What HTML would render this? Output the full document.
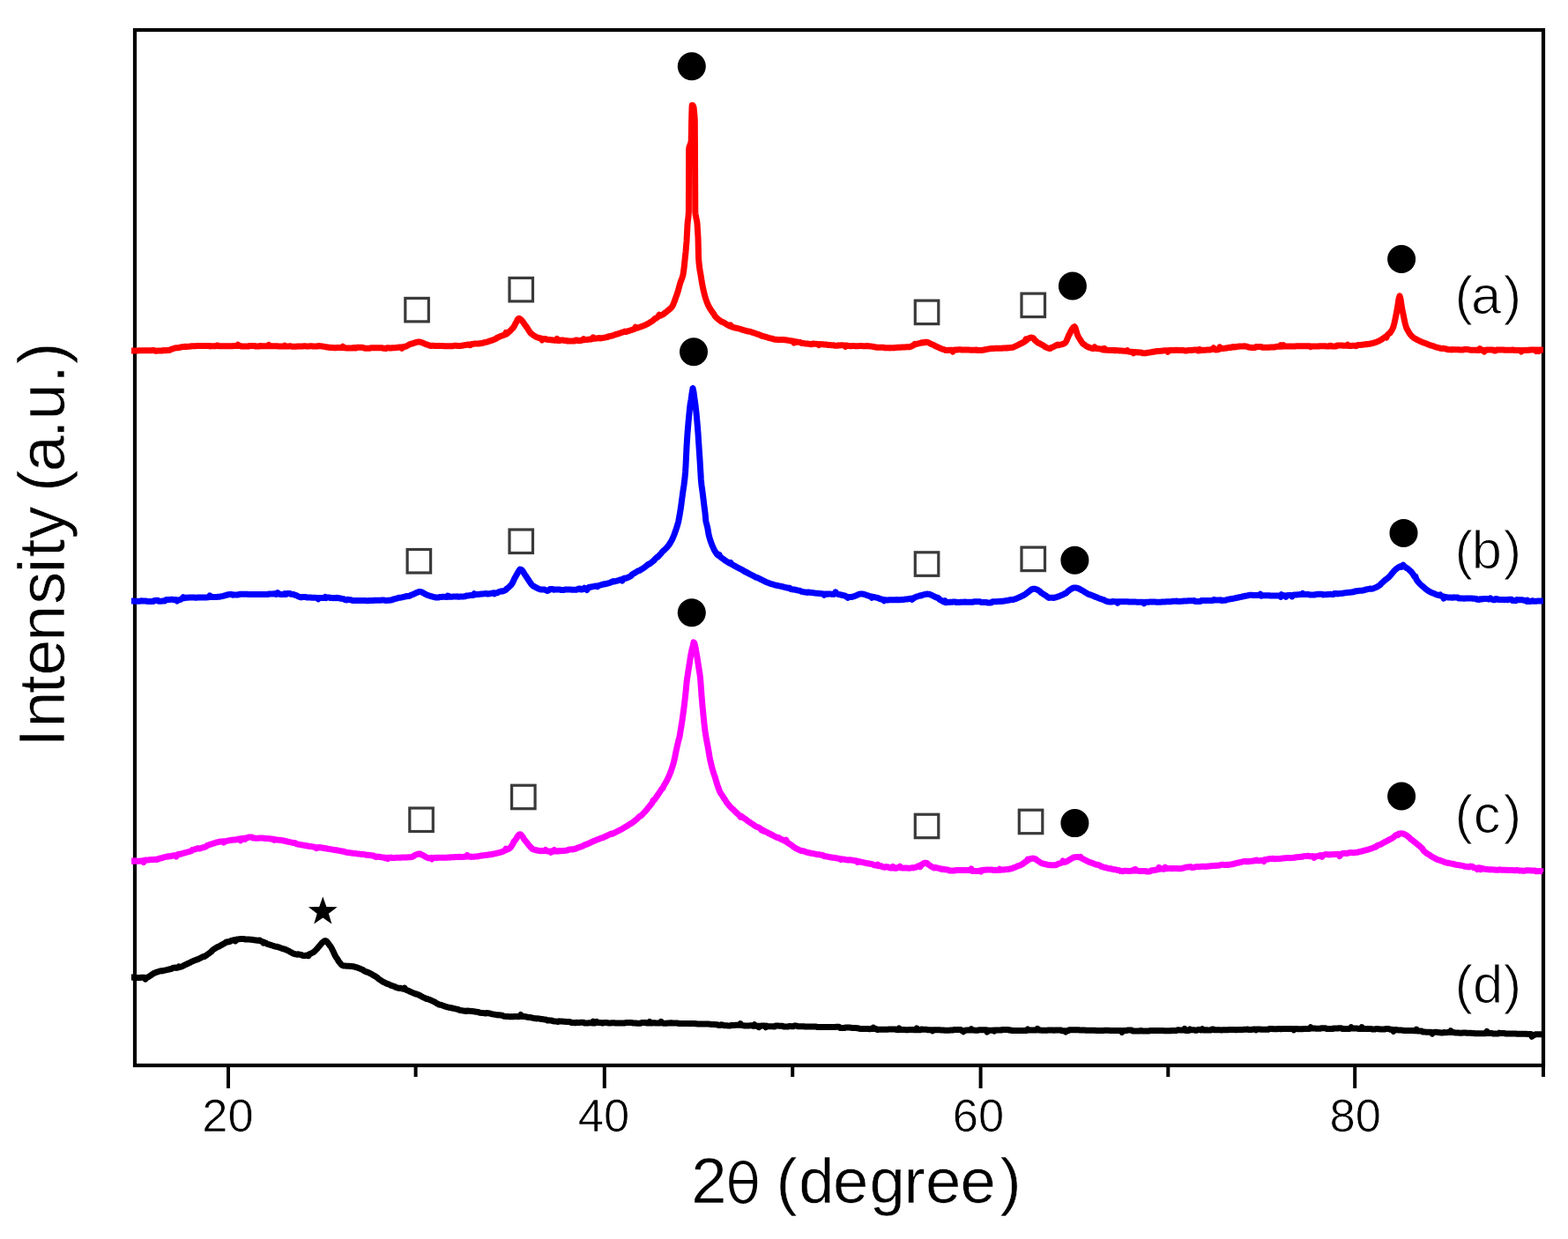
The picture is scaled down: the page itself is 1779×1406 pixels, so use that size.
<!DOCTYPE html>
<html><head><meta charset="utf-8"><title>XRD patterns</title>
<style>
html,body{margin:0;padding:0;background:#fff;width:1779px;height:1406px;overflow:hidden}
svg{display:block}
text{font-family:"Liberation Sans",Arial,sans-serif;fill:#000}
.tl{font-size:52.5px;stroke:#fff;stroke-width:0.7px}
.ax{font-size:72.5px;stroke:#fff;stroke-width:0.6px}
.ay{font-size:74px;stroke:#fff;stroke-width:0.6px}
.pl{font-size:61.5px;stroke:#fff;stroke-width:1.1px}
.th{font-family:"DejaVu Sans",sans-serif;font-weight:200;font-size:60px;stroke:#000;stroke-width:1.8px}
</style></head><body>
<svg width="1779" height="1406" viewBox="0 0 1779 1406">
<rect width="1779" height="1406" fill="#fff"/>

<rect x="153" y="34" width="1598" height="1175" fill="none" stroke="#000" stroke-width="4.2"/>
<line x1="259" y1="1209" x2="259" y2="1235" stroke="#000" stroke-width="4"/><line x1="685.8" y1="1209" x2="685.8" y2="1235" stroke="#000" stroke-width="4"/><line x1="1112.6" y1="1209" x2="1112.6" y2="1235" stroke="#000" stroke-width="4"/><line x1="1537.2" y1="1209" x2="1537.2" y2="1235" stroke="#000" stroke-width="4"/><line x1="471.6" y1="1209" x2="471.6" y2="1222" stroke="#000" stroke-width="4"/><line x1="899.2" y1="1209" x2="899.2" y2="1222" stroke="#000" stroke-width="4"/><line x1="1325.3" y1="1209" x2="1325.3" y2="1222" stroke="#000" stroke-width="4"/><line x1="1751" y1="1209" x2="1751" y2="1222" stroke="#000" stroke-width="4"/>
<defs><clipPath id="pc"><rect x="149" y="20" width="1602.3" height="1189"/></clipPath></defs>
<g fill="none" stroke-width="7" stroke-linejoin="round" stroke-linecap="butt" clip-path="url(#pc)">
<path d="M149.0,397.9 150.0,397.9 151.0,397.9 152.0,397.9 153.0,397.9 154.0,397.9 155.0,397.9 156.0,397.9 157.0,397.9 158.0,397.7 159.0,397.7 160.0,397.7 161.0,397.7 162.0,397.7 163.0,397.7 164.0,397.7 165.0,397.7 166.0,397.7 167.0,397.7 168.0,397.7 169.0,397.7 170.0,397.7 171.0,397.7 172.0,397.7 173.0,397.5 174.0,397.5 175.0,397.5 176.0,398.2 177.0,398.2 178.0,398.2 179.0,398.1 180.0,398.1 181.0,398.1 182.0,398.1 183.0,398.1 184.0,398.1 185.0,397.5 186.0,397.5 187.0,397.7 188.0,397.7 189.0,397.6 190.0,397.6 191.0,397.5 192.0,397.4 193.0,397.1 194.0,396.4 195.0,396.1 196.0,395.8 197.0,395.5 198.0,395.2 199.0,394.9 200.0,394.7 201.0,394.8 202.0,394.7 203.0,394.6 204.0,394.4 205.0,393.9 206.0,393.8 207.0,393.7 208.0,393.6 209.0,393.4 210.0,393.3 211.0,393.5 212.0,393.4 213.0,393.3 214.0,393.3 215.0,393.2 216.0,393.1 217.0,392.8 218.0,392.8 219.0,392.7 220.0,392.7 221.0,392.7 222.0,392.7 223.0,392.6 224.0,392.5 225.0,392.4 226.0,392.4 227.0,392.4 228.0,392.4 229.0,392.4 230.0,392.5 231.0,392.5 232.0,392.5 233.0,392.5 234.0,392.4 235.0,392.4 236.0,392.4 237.0,392.4 238.0,392.9 239.0,392.8 240.0,392.8 241.0,392.7 242.0,392.7 243.0,392.7 244.0,392.7 245.0,392.7 246.0,392.0 247.0,391.9 248.0,392.7 249.0,392.7 250.0,392.7 251.0,392.7 252.0,392.7 253.0,392.7 254.0,392.7 255.0,392.7 256.0,392.7 257.0,392.7 258.0,392.7 259.0,392.7 260.0,392.7 261.0,392.7 262.0,392.7 263.0,392.7 264.0,392.7 265.0,392.6 266.0,392.6 267.0,392.6 268.0,392.6 269.0,392.4 270.0,391.2 271.0,392.4 272.0,392.4 273.0,392.4 274.0,393.0 275.0,393.0 276.0,393.0 277.0,393.0 278.0,393.0 279.0,393.0 280.0,393.0 281.0,393.0 282.0,393.0 283.0,392.5 284.0,392.5 285.0,392.5 286.0,392.5 287.0,392.5 288.0,392.5 289.0,392.5 290.0,393.0 291.0,393.0 292.0,393.0 293.0,393.0 294.0,393.0 295.0,392.5 296.0,392.5 297.0,392.7 298.0,392.7 299.0,392.7 300.0,392.7 301.0,392.7 302.0,392.7 303.0,392.7 304.0,392.7 305.0,391.5 306.0,392.7 307.0,392.7 308.0,392.7 309.0,392.7 310.0,392.7 311.0,392.7 312.0,392.7 313.0,392.7 314.0,392.7 315.0,392.7 316.0,393.1 317.0,393.1 318.0,393.1 319.0,393.1 320.0,393.1 321.0,393.1 322.0,393.1 323.0,392.1 324.0,393.0 325.0,393.0 326.0,393.0 327.0,393.0 328.0,393.0 329.0,392.7 330.0,392.7 331.0,393.3 332.0,393.3 333.0,393.3 334.0,393.3 335.0,393.3 336.0,393.3 337.0,392.9 338.0,392.9 339.0,392.9 340.0,392.9 341.0,392.9 342.0,392.9 343.0,392.9 344.0,392.9 345.0,392.7 346.0,392.7 347.0,392.9 348.0,392.9 349.0,392.9 350.0,392.9 351.0,392.9 352.0,392.7 353.0,392.7 354.0,392.7 355.0,393.1 356.0,393.1 357.0,393.1 358.0,393.1 359.0,393.1 360.0,393.1 361.0,392.5 362.0,392.6 363.0,392.7 364.0,392.8 365.0,392.9 366.0,393.1 367.0,393.2 368.0,393.4 369.0,393.6 370.0,393.8 371.0,394.0 372.0,394.1 373.0,394.2 374.0,394.3 375.0,394.5 376.0,394.6 377.0,394.6 378.0,394.6 379.0,394.7 380.0,394.7 381.0,394.7 382.0,394.5 383.0,394.6 384.0,394.6 385.0,394.6 386.0,394.6 387.0,394.6 388.0,394.7 389.0,393.3 390.0,394.7 391.0,394.7 392.0,394.7 393.0,395.1 394.0,395.1 395.0,395.1 396.0,395.1 397.0,395.1 398.0,395.1 399.0,395.1 400.0,395.1 401.0,394.4 402.0,394.4 403.0,395.0 404.0,395.0 405.0,394.2 406.0,394.2 407.0,394.2 408.0,394.2 409.0,394.2 410.0,394.2 411.0,394.2 412.0,394.8 413.0,394.8 414.0,395.2 415.0,395.2 416.0,395.2 417.0,395.2 418.0,395.2 419.0,395.2 420.0,395.2 421.0,394.7 422.0,394.7 423.0,394.7 424.0,394.7 425.0,394.7 426.0,394.7 427.0,394.7 428.0,394.7 429.0,394.7 430.0,394.7 431.0,394.7 432.0,394.8 433.0,394.8 434.0,394.8 435.0,395.3 436.0,395.3 437.0,395.4 438.0,395.4 439.0,394.8 440.0,394.8 441.0,394.8 442.0,395.0 443.0,395.0 444.0,395.0 445.0,394.8 446.0,394.8 447.0,394.7 448.0,394.7 449.0,394.6 450.0,394.6 451.0,394.2 452.0,394.2 453.0,394.1 454.0,394.0 455.0,393.9 456.0,395.4 457.0,393.8 458.0,393.6 459.0,393.3 460.0,393.3 461.0,392.8 462.0,392.3 463.0,391.8 464.0,391.2 465.0,390.7 466.0,390.3 467.0,390.2 468.0,389.9 469.0,389.5 470.0,389.2 471.0,388.8 472.0,388.5 473.0,388.3 474.0,388.1 475.0,388.0 476.0,388.0 477.0,388.2 478.0,388.5 479.0,388.8 480.0,389.3 481.0,389.7 482.0,390.2 483.0,390.6 484.0,390.9 485.0,391.2 486.0,391.6 487.0,392.0 488.0,392.3 489.0,392.5 490.0,392.3 491.0,392.3 492.0,392.3 493.0,392.4 494.0,392.4 495.0,392.4 496.0,392.4 497.0,392.4 498.0,392.5 499.0,392.6 500.0,392.6 501.0,392.6 502.0,392.6 503.0,392.6 504.0,392.8 505.0,392.8 506.0,392.8 507.0,392.8 508.0,392.8 509.0,392.8 510.0,392.8 511.0,392.8 512.0,392.8 513.0,392.8 514.0,392.8 515.0,392.2 516.0,392.2 517.0,392.2 518.0,392.2 519.0,392.6 520.0,392.6 521.0,392.6 522.0,392.5 523.0,392.4 524.0,392.2 525.0,392.0 526.0,391.9 527.0,391.7 528.0,391.5 529.0,391.4 530.0,391.2 531.0,391.0 532.0,390.9 533.0,391.7 534.0,391.5 535.0,390.5 536.0,390.4 537.0,390.3 538.0,390.1 539.0,390.0 540.0,389.9 541.0,390.1 542.0,390.0 543.0,390.0 544.0,389.8 545.0,389.7 546.0,389.5 547.0,389.4 548.0,389.2 549.0,388.8 550.0,388.6 551.0,388.4 552.0,388.2 553.0,387.9 554.0,387.6 555.0,387.2 556.0,386.9 557.0,386.5 558.0,386.3 559.0,385.9 560.0,385.5 561.0,385.1 562.0,384.6 563.0,384.2 564.0,383.2 565.0,382.8 566.0,382.4 567.0,382.0 568.0,381.6 569.0,381.2 570.0,380.9 571.0,380.5 572.0,380.1 573.0,379.9 574.0,377.5 575.0,378.9 576.0,377.9 577.0,377.1 578.0,376.2 579.0,375.2 580.0,374.2 581.0,373.1 582.0,372.3 583.0,370.8 584.0,368.9 585.0,366.8 586.0,365.6 587.0,363.0 588.0,361.7 589.0,361.3 590.0,361.8 591.0,362.5 592.0,363.6 593.0,364.9 594.0,366.3 595.0,367.8 596.0,369.1 597.0,370.5 598.0,371.8 599.0,373.4 600.0,375.1 601.0,376.6 602.0,377.9 603.0,378.7 604.0,379.5 605.0,380.3 606.0,381.0 607.0,381.6 608.0,382.2 609.0,382.6 610.0,382.9 611.0,383.3 612.0,383.6 613.0,383.8 614.0,384.0 615.0,386.1 616.0,384.4 617.0,384.6 618.0,384.5 619.0,384.6 620.0,385.2 621.0,385.3 622.0,385.4 623.0,385.5 624.0,385.6 625.0,385.7 626.0,385.8 627.0,386.0 628.0,386.1 629.0,386.2 630.0,386.3 631.0,386.3 632.0,384.4 633.0,386.5 634.0,386.6 635.0,386.6 636.0,385.9 637.0,386.0 638.0,386.0 639.0,386.1 640.0,386.4 641.0,386.4 642.0,386.5 643.0,386.5 644.0,387.0 645.0,387.0 646.0,387.0 647.0,387.0 648.0,387.0 649.0,387.0 650.0,387.0 651.0,386.9 652.0,386.9 653.0,386.1 654.0,386.1 655.0,386.0 656.0,386.8 657.0,386.7 658.0,386.6 659.0,386.5 660.0,386.0 661.0,385.9 662.0,384.6 663.0,385.7 664.0,385.6 665.0,385.5 666.0,385.4 667.0,385.3 668.0,385.2 669.0,385.1 670.0,385.0 671.0,384.9 672.0,384.6 673.0,382.8 674.0,384.3 675.0,384.2 676.0,384.0 677.0,383.9 678.0,383.8 679.0,383.6 680.0,383.5 681.0,383.9 682.0,383.8 683.0,383.6 684.0,383.4 685.0,383.3 686.0,383.1 687.0,382.9 688.0,382.7 689.0,382.5 690.0,382.0 691.0,381.8 692.0,381.6 693.0,381.3 694.0,381.1 695.0,380.8 696.0,380.5 697.0,380.2 698.0,379.7 699.0,379.4 700.0,379.2 701.0,378.9 702.0,378.6 703.0,378.1 704.0,377.8 705.0,377.5 706.0,377.1 707.0,376.8 708.0,376.5 709.0,376.1 710.0,376.6 711.0,376.3 712.0,375.9 713.0,375.6 714.0,375.3 715.0,375.0 716.0,374.7 717.0,374.3 718.0,374.0 719.0,373.6 720.0,373.3 721.0,371.2 722.0,372.4 723.0,372.1 724.0,371.8 725.0,371.5 726.0,371.2 727.0,370.9 728.0,370.4 729.0,370.1 730.0,369.7 731.0,369.3 732.0,368.9 733.0,368.4 734.0,367.9 735.0,367.4 736.0,366.8 737.0,366.2 738.0,365.6 739.0,365.0 740.0,364.3 741.0,363.6 742.0,362.6 743.0,361.7 744.0,361.4 745.0,360.6 746.0,360.1 747.0,359.1 748.0,357.1 749.0,358.3 750.0,357.8 751.0,357.4 752.0,356.9 753.0,356.3 754.0,355.4 755.0,354.7 756.0,353.9 757.0,353.1 758.0,352.3 759.0,351.4 760.0,350.7 761.0,349.7 762.0,348.6 763.0,347.2 764.0,345.1 765.0,342.5 766.0,339.7 767.0,337.0 768.0,334.2 769.0,331.2 770.0,327.6 771.0,323.9 772.0,320.4 773.0,317.8 774.0,315.3 775.0,311.8 776.0,304.8 777.0,295.1 777.2,293.2 778.0,285.8 779.0,273.8 779.1,271.9 780.0,255.0 780.2,251.9 781.0,246.2 781.4,239.8 781.6,169.8 782.0,166.6 783.0,164.3 784.0,161.4 784.2,160.2 784.6,137.2 785.0,122.5 785.2,119.5 786.0,119.5 787.0,121.7 788.0,131.7 788.3,137.0 788.5,170.0 788.8,240.0 789.0,242.6 790.0,248.1 790.8,251.8 791.0,253.7 792.0,269.4 792.1,272.9 792.6,292.8 793.0,298.5 794.0,306.5 795.0,311.9 795.2,313.1 796.0,318.3 797.0,324.0 798.0,328.9 799.0,333.0 800.0,336.7 801.0,339.9 802.0,342.7 803.0,345.2 804.0,347.3 805.0,349.3 806.0,350.8 807.0,352.4 808.0,353.8 809.0,355.2 810.0,356.5 811.0,358.5 812.0,359.6 813.0,360.6 814.0,361.5 815.0,362.4 816.0,363.1 817.0,363.9 818.0,364.6 819.0,365.3 820.0,365.3 821.0,366.0 822.0,366.6 823.0,367.2 824.0,367.8 825.0,368.4 826.0,369.0 827.0,369.6 828.0,370.1 829.0,369.0 830.0,370.9 831.0,371.2 832.0,371.5 833.0,371.8 834.0,371.9 835.0,372.2 836.0,372.4 837.0,372.6 838.0,372.9 839.0,373.1 840.0,373.4 841.0,373.6 842.0,374.2 843.0,374.5 844.0,374.7 845.0,375.0 846.0,375.3 847.0,375.5 848.0,375.8 849.0,376.1 850.0,376.1 851.0,376.4 852.0,376.7 853.0,377.0 854.0,377.4 855.0,377.7 856.0,378.0 857.0,378.3 858.0,378.7 859.0,379.1 860.0,379.4 861.0,379.7 862.0,380.1 863.0,380.4 864.0,381.1 865.0,381.4 866.0,381.5 867.0,381.8 868.0,382.1 869.0,382.4 870.0,382.7 871.0,383.0 872.0,383.4 873.0,383.7 874.0,384.0 875.0,384.0 876.0,384.3 877.0,384.5 878.0,385.1 879.0,385.2 880.0,385.2 881.0,385.3 882.0,385.4 883.0,385.4 884.0,385.4 885.0,385.5 886.0,385.5 887.0,385.6 888.0,385.5 889.0,385.5 890.0,385.7 891.0,385.7 892.0,385.9 893.0,386.0 894.0,386.2 895.0,386.4 896.0,386.6 897.0,386.8 898.0,387.0 899.0,387.2 900.0,387.1 901.0,389.2 902.0,387.6 903.0,387.8 904.0,388.0 905.0,388.2 906.0,388.2 907.0,388.4 908.0,388.5 909.0,389.3 910.0,389.4 911.0,389.5 912.0,389.6 913.0,389.8 914.0,389.9 915.0,390.0 916.0,390.1 917.0,390.2 918.0,390.3 919.0,390.4 920.0,390.7 921.0,390.8 922.0,390.0 923.0,390.1 924.0,390.2 925.0,390.3 926.0,390.3 927.0,390.4 928.0,390.5 929.0,391.5 930.0,390.7 931.0,390.6 932.0,390.7 933.0,390.7 934.0,390.8 935.0,390.9 936.0,391.0 937.0,391.1 938.0,391.1 939.0,391.4 940.0,391.5 941.0,391.5 942.0,391.6 943.0,391.7 944.0,391.7 945.0,391.8 946.0,391.8 947.0,392.2 948.0,392.2 949.0,392.3 950.0,392.3 951.0,391.8 952.0,391.9 953.0,391.9 954.0,391.8 955.0,391.8 956.0,391.8 957.0,391.9 958.0,391.9 959.0,393.3 960.0,391.9 961.0,391.9 962.0,392.6 963.0,392.6 964.0,392.6 965.0,392.7 966.0,392.7 967.0,392.6 968.0,392.6 969.0,392.6 970.0,392.7 971.0,392.7 972.0,392.7 973.0,392.7 974.0,392.7 975.0,392.6 976.0,392.6 977.0,392.6 978.0,392.6 979.0,392.7 980.0,392.7 981.0,392.7 982.0,392.8 983.0,392.6 984.0,392.6 985.0,392.7 986.0,392.8 987.0,392.9 988.0,393.0 989.0,393.1 990.0,393.3 991.0,393.4 992.0,393.7 993.0,393.9 994.0,394.0 995.0,394.2 996.0,394.3 997.0,394.2 998.0,394.2 999.0,394.3 1000.0,394.3 1001.0,394.3 1002.0,394.3 1003.0,394.3 1004.0,394.8 1005.0,394.8 1006.0,394.8 1007.0,394.7 1008.0,394.7 1009.0,394.9 1010.0,394.8 1011.0,394.8 1012.0,394.8 1013.0,394.8 1014.0,394.8 1015.0,394.7 1016.0,394.4 1017.0,394.4 1018.0,394.3 1019.0,394.3 1020.0,394.3 1021.0,394.2 1022.0,394.2 1023.0,394.0 1024.0,394.0 1025.0,394.0 1026.0,393.9 1027.0,393.9 1028.0,393.8 1029.0,393.8 1030.0,393.7 1031.0,393.9 1032.0,393.7 1033.0,393.4 1034.0,393.1 1035.0,392.4 1036.0,391.9 1037.0,391.5 1038.0,390.3 1039.0,390.7 1040.0,390.4 1041.0,390.1 1042.0,389.7 1043.0,389.7 1044.0,389.4 1045.0,389.0 1046.0,388.7 1047.0,389.0 1048.0,388.8 1049.0,388.3 1050.0,388.3 1051.0,388.4 1052.0,388.3 1053.0,388.7 1054.0,389.1 1055.0,389.6 1056.0,390.2 1057.0,390.8 1058.0,390.9 1059.0,391.4 1060.0,391.9 1061.0,392.6 1062.0,393.0 1063.0,393.4 1064.0,393.9 1065.0,394.4 1066.0,394.9 1067.0,395.3 1068.0,395.7 1069.0,396.1 1070.0,396.4 1071.0,396.7 1072.0,397.0 1073.0,397.5 1074.0,397.6 1075.0,397.6 1076.0,397.3 1077.0,397.3 1078.0,397.3 1079.0,397.3 1080.0,397.3 1081.0,399.1 1082.0,397.3 1083.0,397.1 1084.0,397.1 1085.0,397.1 1086.0,397.1 1087.0,396.7 1088.0,396.7 1089.0,396.7 1090.0,396.7 1091.0,397.1 1092.0,397.1 1093.0,397.1 1094.0,397.1 1095.0,397.1 1096.0,397.1 1097.0,397.1 1098.0,397.1 1099.0,397.1 1100.0,397.1 1101.0,397.3 1102.0,397.3 1103.0,397.3 1104.0,397.3 1105.0,397.3 1106.0,397.3 1107.0,396.9 1108.0,396.9 1109.0,397.6 1110.0,397.6 1111.0,397.6 1112.0,397.6 1113.0,397.5 1114.0,397.4 1115.0,397.3 1116.0,397.1 1117.0,397.0 1118.0,396.6 1119.0,396.4 1120.0,396.3 1121.0,396.1 1122.0,395.9 1123.0,395.8 1124.0,395.7 1125.0,395.6 1126.0,395.5 1127.0,395.5 1128.0,395.4 1129.0,395.3 1130.0,395.3 1131.0,395.3 1132.0,395.2 1133.0,395.2 1134.0,395.3 1135.0,395.2 1136.0,395.2 1137.0,395.2 1138.0,395.1 1139.0,395.1 1140.0,395.0 1141.0,394.9 1142.0,394.8 1143.0,394.9 1144.0,394.8 1145.0,394.7 1146.0,394.6 1147.0,394.6 1148.0,394.4 1149.0,394.2 1150.0,394.0 1151.0,393.3 1152.0,392.9 1153.0,392.5 1154.0,392.1 1155.0,391.4 1156.0,391.0 1157.0,390.5 1158.0,390.0 1159.0,389.5 1160.0,389.0 1161.0,388.5 1162.0,387.8 1163.0,387.4 1164.0,384.9 1165.0,385.8 1166.0,384.7 1167.0,384.1 1168.0,383.6 1169.0,383.2 1170.0,383.1 1171.0,383.2 1172.0,383.6 1173.0,384.2 1174.0,385.9 1175.0,386.7 1176.0,387.6 1177.0,388.5 1178.0,389.3 1179.0,389.4 1180.0,390.1 1181.0,390.6 1182.0,391.2 1183.0,391.7 1184.0,392.3 1185.0,392.9 1186.0,393.8 1187.0,394.2 1188.0,394.7 1189.0,395.0 1190.0,395.3 1191.0,395.5 1192.0,395.5 1193.0,394.4 1194.0,394.1 1195.0,393.7 1196.0,393.2 1197.0,392.6 1198.0,392.1 1199.0,391.5 1200.0,391.1 1201.0,391.7 1202.0,391.4 1203.0,391.1 1204.0,390.9 1205.0,390.7 1206.0,390.3 1207.0,390.0 1208.0,389.4 1209.0,388.5 1210.0,386.8 1211.0,384.3 1212.0,382.0 1213.0,379.6 1214.0,378.2 1215.0,375.6 1216.0,373.9 1217.0,372.5 1218.0,371.3 1219.0,370.7 1220.0,372.0 1221.0,375.3 1222.0,378.6 1223.0,381.3 1224.0,383.1 1225.0,384.6 1226.0,386.3 1227.0,387.8 1228.0,389.2 1229.0,390.2 1230.0,391.0 1231.0,391.6 1232.0,392.6 1233.0,393.1 1234.0,393.5 1235.0,394.0 1236.0,394.4 1237.0,394.7 1238.0,395.1 1239.0,395.4 1240.0,395.6 1241.0,395.3 1242.0,393.8 1243.0,395.3 1244.0,395.4 1245.0,395.6 1246.0,395.7 1247.0,395.8 1248.0,395.9 1249.0,396.0 1250.0,396.1 1251.0,397.0 1252.0,397.0 1253.0,395.5 1254.0,397.2 1255.0,397.2 1256.0,397.3 1257.0,397.3 1258.0,397.4 1259.0,397.4 1260.0,397.5 1261.0,397.5 1262.0,397.6 1263.0,397.6 1264.0,397.7 1265.0,397.5 1266.0,397.6 1267.0,397.7 1268.0,397.7 1269.0,397.8 1270.0,397.9 1271.0,397.9 1272.0,398.0 1273.0,398.1 1274.0,398.2 1275.0,398.2 1276.0,398.3 1277.0,398.4 1278.0,398.6 1279.0,397.7 1280.0,398.8 1281.0,399.1 1282.0,399.2 1283.0,399.3 1284.0,399.4 1285.0,399.3 1286.0,400.8 1287.0,399.5 1288.0,399.6 1289.0,399.7 1290.0,399.8 1291.0,399.9 1292.0,399.8 1293.0,399.9 1294.0,399.9 1295.0,400.0 1296.0,400.7 1297.0,400.7 1298.0,400.8 1299.0,400.8 1300.0,400.8 1301.0,400.3 1302.0,400.3 1303.0,400.2 1304.0,400.1 1305.0,399.9 1306.0,399.7 1307.0,399.5 1308.0,399.3 1309.0,399.2 1310.0,399.0 1311.0,398.8 1312.0,398.7 1313.0,398.5 1314.0,398.6 1315.0,398.5 1316.0,398.4 1317.0,398.2 1318.0,398.2 1319.0,398.1 1320.0,398.1 1321.0,397.7 1322.0,397.7 1323.0,397.7 1324.0,397.7 1325.0,399.3 1326.0,397.7 1327.0,397.6 1328.0,397.6 1329.0,397.6 1330.0,397.6 1331.0,397.6 1332.0,397.6 1333.0,397.6 1334.0,397.2 1335.0,397.2 1336.0,397.6 1337.0,397.6 1338.0,397.6 1339.0,397.6 1340.0,397.6 1341.0,397.6 1342.0,397.6 1343.0,397.6 1344.0,397.9 1345.0,397.9 1346.0,397.9 1347.0,397.9 1348.0,397.4 1349.0,397.4 1350.0,397.4 1351.0,397.4 1352.0,397.4 1353.0,397.3 1354.0,397.3 1355.0,397.1 1356.0,397.1 1357.0,397.1 1358.0,397.1 1359.0,398.0 1360.0,398.0 1361.0,396.5 1362.0,397.6 1363.0,397.3 1364.0,397.2 1365.0,397.4 1366.0,397.3 1367.0,397.3 1368.0,397.2 1369.0,397.1 1370.0,397.1 1371.0,397.0 1372.0,396.9 1373.0,396.9 1374.0,396.5 1375.0,396.4 1376.0,396.3 1377.0,394.8 1378.0,396.2 1379.0,397.0 1380.0,396.9 1381.0,396.8 1382.0,396.7 1383.0,396.6 1384.0,393.8 1385.0,395.7 1386.0,395.6 1387.0,395.5 1388.0,395.4 1389.0,395.3 1390.0,395.2 1391.0,395.1 1392.0,395.0 1393.0,394.6 1394.0,394.4 1395.0,394.3 1396.0,394.5 1397.0,394.3 1398.0,393.7 1399.0,393.5 1400.0,394.0 1401.0,393.9 1402.0,393.7 1403.0,393.5 1404.0,393.3 1405.0,393.2 1406.0,393.1 1407.0,393.1 1408.0,393.0 1409.0,393.0 1410.0,393.0 1411.0,393.0 1412.0,392.8 1413.0,392.9 1414.0,393.1 1415.0,393.3 1416.0,393.9 1417.0,394.1 1418.0,394.3 1419.0,394.3 1420.0,394.4 1421.0,394.4 1422.0,394.4 1423.0,394.4 1424.0,394.4 1425.0,393.6 1426.0,393.6 1427.0,393.4 1428.0,393.4 1429.0,393.4 1430.0,393.4 1431.0,393.4 1432.0,394.2 1433.0,394.2 1434.0,394.2 1435.0,394.2 1436.0,394.2 1437.0,394.2 1438.0,394.2 1439.0,394.2 1440.0,394.2 1441.0,394.1 1442.0,394.1 1443.0,394.1 1444.0,394.0 1445.0,394.0 1446.0,394.0 1447.0,393.4 1448.0,393.4 1449.0,393.3 1450.0,393.3 1451.0,393.2 1452.0,393.2 1453.0,391.7 1454.0,393.2 1455.0,393.1 1456.0,391.7 1457.0,393.0 1458.0,393.0 1459.0,393.0 1460.0,392.9 1461.0,393.0 1462.0,392.9 1463.0,392.9 1464.0,393.0 1465.0,392.9 1466.0,392.9 1467.0,392.9 1468.0,392.9 1469.0,392.9 1470.0,392.9 1471.0,392.7 1472.0,392.7 1473.0,392.7 1474.0,392.7 1475.0,392.7 1476.0,392.7 1477.0,392.7 1478.0,392.7 1479.0,392.8 1480.0,392.8 1481.0,392.8 1482.0,392.8 1483.0,392.8 1484.0,392.8 1485.0,392.8 1486.0,392.8 1487.0,393.7 1488.0,393.0 1489.0,393.0 1490.0,393.0 1491.0,393.0 1492.0,393.0 1493.0,393.0 1494.0,393.0 1495.0,393.0 1496.0,393.0 1497.0,392.8 1498.0,392.8 1499.0,392.8 1500.0,392.8 1501.0,392.8 1502.0,392.8 1503.0,392.8 1504.0,392.8 1505.0,392.9 1506.0,392.9 1507.0,392.9 1508.0,392.9 1509.0,392.2 1510.0,392.2 1511.0,393.0 1512.0,393.0 1513.0,393.0 1514.0,392.9 1515.0,392.9 1516.0,392.9 1517.0,392.1 1518.0,392.1 1519.0,392.1 1520.0,392.0 1521.0,392.0 1522.0,392.0 1523.0,392.0 1524.0,392.3 1525.0,392.3 1526.0,392.3 1527.0,392.3 1528.0,392.2 1529.0,391.3 1530.0,392.5 1531.0,392.4 1532.0,392.4 1533.0,392.4 1534.0,392.3 1535.0,392.3 1536.0,392.3 1537.0,392.2 1538.0,392.7 1539.0,392.6 1540.0,391.7 1541.0,391.6 1542.0,391.6 1543.0,391.5 1544.0,391.4 1545.0,391.3 1546.0,391.2 1547.0,391.1 1548.0,391.0 1549.0,390.7 1550.0,390.6 1551.0,390.7 1552.0,390.6 1553.0,390.4 1554.0,390.2 1555.0,390.0 1556.0,389.8 1557.0,389.6 1558.0,389.4 1559.0,388.9 1560.0,388.7 1561.0,388.4 1562.0,388.0 1563.0,387.6 1564.0,387.2 1565.0,386.7 1566.0,386.1 1567.0,385.5 1568.0,384.9 1569.0,384.2 1570.0,383.5 1571.0,382.7 1572.0,382.0 1573.0,383.0 1574.0,380.3 1575.0,379.4 1576.0,378.4 1577.0,377.9 1578.0,376.5 1579.0,374.9 1580.0,373.1 1581.0,370.5 1582.0,366.6 1583.0,362.0 1584.0,357.0 1585.0,352.0 1586.0,345.7 1587.0,339.0 1588.0,335.8 1589.0,339.0 1590.0,345.7 1591.0,352.0 1592.0,356.5 1593.0,361.4 1594.0,366.0 1595.0,369.9 1596.0,372.7 1597.0,374.6 1598.0,376.3 1599.0,378.0 1600.0,379.4 1601.0,380.6 1602.0,381.7 1603.0,382.5 1604.0,383.4 1605.0,384.1 1606.0,384.5 1607.0,385.1 1608.0,385.7 1609.0,386.2 1610.0,386.7 1611.0,387.2 1612.0,387.6 1613.0,388.0 1614.0,388.4 1615.0,388.8 1616.0,389.2 1617.0,389.5 1618.0,389.8 1619.0,390.2 1620.0,390.8 1621.0,391.2 1622.0,391.5 1623.0,391.8 1624.0,392.1 1625.0,392.4 1626.0,392.7 1627.0,393.1 1628.0,393.5 1629.0,393.8 1630.0,394.1 1631.0,394.4 1632.0,394.6 1633.0,394.9 1634.0,395.2 1635.0,395.4 1636.0,395.6 1637.0,395.3 1638.0,395.4 1639.0,395.6 1640.0,395.8 1641.0,396.2 1642.0,396.3 1643.0,396.7 1644.0,396.8 1645.0,396.8 1646.0,396.8 1647.0,396.9 1648.0,396.6 1649.0,396.7 1650.0,396.7 1651.0,396.7 1652.0,396.7 1653.0,396.7 1654.0,396.7 1655.0,396.8 1656.0,397.0 1657.0,397.0 1658.0,397.0 1659.0,397.0 1660.0,397.0 1661.0,396.6 1662.0,396.6 1663.0,396.6 1664.0,396.6 1665.0,396.6 1666.0,396.7 1667.0,396.7 1668.0,397.3 1669.0,397.3 1670.0,397.3 1671.0,397.2 1672.0,397.2 1673.0,397.2 1674.0,397.2 1675.0,397.2 1676.0,397.5 1677.0,397.5 1678.0,397.5 1679.0,395.6 1680.0,397.3 1681.0,397.3 1682.0,397.3 1683.0,397.3 1684.0,399.1 1685.0,397.3 1686.0,397.4 1687.0,397.1 1688.0,397.1 1689.0,397.1 1690.0,397.1 1691.0,397.1 1692.0,397.1 1693.0,397.1 1694.0,397.1 1695.0,398.0 1696.0,398.0 1697.0,398.0 1698.0,397.1 1699.0,397.1 1700.0,397.0 1701.0,397.0 1702.0,397.0 1703.0,397.0 1704.0,397.0 1705.0,397.0 1706.0,397.0 1707.0,397.2 1708.0,397.2 1709.0,397.2 1710.0,397.2 1711.0,397.2 1712.0,397.2 1713.0,397.2 1714.0,397.2 1715.0,397.2 1716.0,397.1 1717.0,397.1 1718.0,397.5 1719.0,397.5 1720.0,397.5 1721.0,397.5 1722.0,397.5 1723.0,397.5 1724.0,397.5 1725.0,397.5 1726.0,399.0 1727.0,397.5 1728.0,397.5 1729.0,397.5 1730.0,397.5 1731.0,397.5 1732.0,397.5 1733.0,397.5 1734.0,397.3 1735.0,397.3 1736.0,397.0 1737.0,397.0 1738.0,397.1 1739.0,397.1 1740.0,397.1 1741.0,397.1 1742.0,397.1 1743.0,398.6 1744.0,397.1 1745.0,397.1 1746.0,398.5 1747.0,397.0 1748.0,397.0 1749.0,397.0 1750.0,397.0 1751.0,397.0" stroke="#ff0000"/>
<path d="M149.0,682.1 150.0,682.1 151.0,682.1 152.0,682.1 153.0,682.3 154.0,682.3 155.0,682.3 156.0,682.3 157.0,682.3 158.0,682.3 159.0,682.3 160.0,681.7 161.0,681.7 162.0,682.1 163.0,682.1 164.0,682.1 165.0,682.1 166.0,682.1 167.0,682.4 168.0,682.4 169.0,682.4 170.0,682.4 171.0,682.4 172.0,682.4 173.0,682.4 174.0,682.4 175.0,681.6 176.0,681.6 177.0,681.3 178.0,681.3 179.0,681.3 180.0,682.3 181.0,682.2 182.0,682.2 183.0,682.2 184.0,682.1 185.0,682.1 186.0,682.0 187.0,682.0 188.0,680.7 189.0,680.6 190.0,680.6 191.0,680.5 192.0,680.5 193.0,680.4 194.0,680.3 195.0,680.3 196.0,680.2 197.0,680.8 198.0,680.7 199.0,680.6 200.0,680.6 201.0,682.1 202.0,680.9 203.0,680.8 204.0,680.6 205.0,680.4 206.0,679.5 207.0,679.2 208.0,677.6 209.0,678.7 210.0,678.5 211.0,678.3 212.0,678.1 213.0,678.3 214.0,678.1 215.0,678.1 216.0,678.0 217.0,678.0 218.0,678.0 219.0,677.9 220.0,677.9 221.0,678.2 222.0,678.2 223.0,678.2 224.0,678.1 225.0,678.1 226.0,678.1 227.0,678.1 228.0,677.9 229.0,677.9 230.0,677.9 231.0,677.9 232.0,677.9 233.0,677.9 234.0,677.9 235.0,677.9 236.0,677.7 237.0,677.7 238.0,675.8 239.0,677.6 240.0,677.5 241.0,677.5 242.0,677.5 243.0,677.4 244.0,677.4 245.0,677.4 246.0,677.4 247.0,677.3 248.0,677.3 249.0,677.3 250.0,676.9 251.0,676.8 252.0,676.6 253.0,676.4 254.0,676.1 255.0,675.8 256.0,675.5 257.0,675.2 258.0,675.0 259.0,674.8 260.0,674.6 261.0,674.5 262.0,674.5 263.0,674.5 264.0,675.2 265.0,675.1 266.0,675.1 267.0,675.1 268.0,675.0 269.0,675.0 270.0,675.0 271.0,674.6 272.0,674.5 273.0,674.3 274.0,674.3 275.0,674.3 276.0,674.2 277.0,674.2 278.0,674.2 279.0,674.2 280.0,674.2 281.0,674.5 282.0,674.5 283.0,674.5 284.0,674.5 285.0,674.4 286.0,674.4 287.0,674.4 288.0,674.4 289.0,674.5 290.0,674.5 291.0,674.5 292.0,674.4 293.0,674.4 294.0,674.4 295.0,674.4 296.0,674.4 297.0,674.4 298.0,674.5 299.0,674.5 300.0,674.5 301.0,674.5 302.0,674.5 303.0,674.5 304.0,674.5 305.0,674.0 306.0,674.0 307.0,674.0 308.0,674.0 309.0,674.0 310.0,674.0 311.0,673.7 312.0,673.7 313.0,674.4 314.0,674.4 315.0,672.6 316.0,674.1 317.0,674.1 318.0,674.5 319.0,674.5 320.0,674.5 321.0,674.5 322.0,674.5 323.0,673.7 324.0,674.5 325.0,674.5 326.0,673.4 327.0,673.4 328.0,673.4 329.0,673.4 330.0,674.2 331.0,674.3 332.0,674.4 333.0,674.5 334.0,675.1 335.0,675.3 336.0,675.6 337.0,676.0 338.0,676.7 339.0,677.0 340.0,677.4 341.0,677.7 342.0,677.9 343.0,677.4 344.0,677.5 345.0,677.6 346.0,677.6 347.0,677.6 348.0,677.9 349.0,678.0 350.0,678.0 351.0,678.0 352.0,678.0 353.0,678.1 354.0,678.3 355.0,678.3 356.0,678.3 357.0,678.3 358.0,678.3 359.0,678.4 360.0,678.4 361.0,679.8 362.0,678.4 363.0,678.5 364.0,678.5 365.0,678.5 366.0,678.5 367.0,678.5 368.0,678.6 369.0,677.5 370.0,678.6 371.0,677.9 372.0,677.9 373.0,677.9 374.0,677.9 375.0,678.6 376.0,678.6 377.0,678.6 378.0,678.7 379.0,678.6 380.0,678.6 381.0,678.7 382.0,678.3 383.0,678.5 384.0,678.7 385.0,678.8 386.0,679.0 387.0,679.2 388.0,679.4 389.0,679.6 390.0,679.8 391.0,680.5 392.0,680.7 393.0,680.9 394.0,680.3 395.0,680.5 396.0,680.6 397.0,680.8 398.0,680.8 399.0,680.9 400.0,681.5 401.0,681.5 402.0,681.5 403.0,681.5 404.0,681.5 405.0,681.5 406.0,681.5 407.0,681.5 408.0,681.4 409.0,681.4 410.0,681.4 411.0,681.4 412.0,681.4 413.0,681.4 414.0,681.4 415.0,681.7 416.0,681.7 417.0,681.7 418.0,681.7 419.0,681.6 420.0,681.6 421.0,681.6 422.0,681.6 423.0,681.6 424.0,681.3 425.0,681.3 426.0,681.2 427.0,681.2 428.0,681.2 429.0,681.2 430.0,681.2 431.0,681.2 432.0,681.2 433.0,681.1 434.0,681.1 435.0,681.1 436.0,681.1 437.0,681.4 438.0,681.4 439.0,681.4 440.0,681.3 441.0,681.3 442.0,681.2 443.0,681.0 444.0,680.9 445.0,680.7 446.0,680.1 447.0,680.0 448.0,679.6 449.0,679.4 450.0,679.1 451.0,678.9 452.0,678.4 453.0,678.2 454.0,678.3 455.0,678.1 456.0,677.9 457.0,677.6 458.0,677.4 459.0,677.2 460.0,676.9 461.0,676.6 462.0,676.7 463.0,676.4 464.0,676.4 465.0,676.1 466.0,675.4 467.0,675.1 468.0,674.7 469.0,674.3 470.0,673.8 471.0,673.3 472.0,672.8 473.0,672.4 474.0,672.1 475.0,671.6 476.0,671.5 477.0,671.6 478.0,671.8 479.0,672.2 480.0,672.7 481.0,673.3 482.0,673.9 483.0,674.4 484.0,674.9 485.0,675.3 486.0,675.7 487.0,676.0 488.0,676.3 489.0,676.6 490.0,676.9 491.0,677.2 492.0,677.4 493.0,677.6 494.0,677.9 495.0,677.9 496.0,677.9 497.0,677.9 498.0,677.9 499.0,677.4 500.0,677.4 501.0,677.4 502.0,677.3 503.0,677.3 504.0,677.2 505.0,677.2 506.0,677.5 507.0,677.4 508.0,676.1 509.0,676.4 510.0,677.3 511.0,677.3 512.0,677.3 513.0,677.2 514.0,677.1 515.0,677.1 516.0,677.0 517.0,676.9 518.0,676.9 519.0,676.8 520.0,677.3 521.0,677.2 522.0,677.1 523.0,677.1 524.0,677.0 525.0,676.9 526.0,676.9 527.0,676.8 528.0,676.7 529.0,676.0 530.0,675.9 531.0,675.9 532.0,675.8 533.0,675.7 534.0,675.6 535.0,675.6 536.0,675.5 537.0,675.4 538.0,673.7 539.0,674.8 540.0,674.7 541.0,674.6 542.0,674.5 543.0,674.5 544.0,674.3 545.0,674.2 546.0,674.1 547.0,674.0 548.0,673.9 549.0,673.8 550.0,673.7 551.0,673.6 552.0,673.5 553.0,674.1 554.0,674.0 555.0,673.8 556.0,673.7 557.0,673.4 558.0,673.2 559.0,673.1 560.0,672.8 561.0,673.9 562.0,673.0 563.0,672.9 564.0,672.7 565.0,672.5 566.0,671.6 567.0,671.4 568.0,671.1 569.0,670.8 570.0,671.1 571.0,670.7 572.0,670.3 573.0,669.8 574.0,669.3 575.0,668.0 576.0,667.3 577.0,666.6 578.0,665.6 579.0,664.7 580.0,663.7 581.0,662.3 582.0,660.4 583.0,658.2 584.0,655.9 585.0,654.3 586.0,652.4 587.0,650.7 588.0,648.9 589.0,647.3 590.0,646.1 591.0,646.3 592.0,646.7 593.0,647.9 594.0,649.5 595.0,651.3 596.0,652.7 597.0,654.3 598.0,655.7 599.0,657.3 600.0,658.7 601.0,660.3 602.0,661.7 603.0,663.1 604.0,664.2 605.0,665.0 606.0,665.5 607.0,666.1 608.0,666.7 609.0,667.2 610.0,667.7 611.0,668.2 612.0,668.5 613.0,668.8 614.0,669.0 615.0,669.0 616.0,669.0 617.0,669.0 618.0,669.0 619.0,669.7 620.0,669.7 621.0,670.5 622.0,669.7 623.0,669.7 624.0,668.5 625.0,668.5 626.0,668.5 627.0,668.5 628.0,669.2 629.0,669.2 630.0,668.9 631.0,668.9 632.0,668.9 633.0,668.9 634.0,668.9 635.0,668.9 636.0,669.4 637.0,669.4 638.0,669.4 639.0,669.4 640.0,669.4 641.0,669.1 642.0,669.1 643.0,669.1 644.0,669.1 645.0,669.1 646.0,669.1 647.0,669.1 648.0,669.1 649.0,669.3 650.0,669.3 651.0,669.3 652.0,669.3 653.0,669.2 654.0,669.2 655.0,669.1 656.0,668.2 657.0,668.1 658.0,667.9 659.0,669.1 660.0,669.0 661.0,668.8 662.0,668.6 663.0,667.1 664.0,667.9 665.0,667.8 666.0,669.5 667.0,667.4 668.0,666.5 669.0,666.3 670.0,666.2 671.0,666.0 672.0,665.8 673.0,665.6 674.0,665.4 675.0,665.2 676.0,664.9 677.0,665.1 678.0,665.7 679.0,664.6 680.0,664.3 681.0,664.0 682.0,663.7 683.0,663.5 684.0,663.1 685.0,662.8 686.0,663.0 687.0,662.7 688.0,662.4 689.0,662.2 690.0,661.9 691.0,661.6 692.0,661.4 693.0,660.8 694.0,660.6 695.0,659.8 696.0,659.5 697.0,659.9 698.0,659.6 699.0,659.4 700.0,659.1 701.0,658.8 702.0,658.5 703.0,658.2 704.0,657.9 705.0,657.6 706.0,659.0 707.0,656.7 708.0,656.3 709.0,655.9 710.0,656.3 711.0,655.9 712.0,655.5 713.0,655.0 714.0,654.6 714.2,654.5 715.0,654.1 716.0,653.5 717.0,652.0 718.0,651.4 719.0,650.9 720.0,650.3 721.0,649.7 722.0,649.1 722.8,648.6 723.0,648.4 724.0,647.8 725.0,647.8 726.0,647.2 727.0,646.6 728.0,645.9 729.0,645.3 730.0,644.7 731.0,644.0 732.0,643.3 732.4,642.8 733.0,642.4 734.0,641.7 735.0,640.7 736.0,640.0 737.0,639.9 738.0,639.1 739.0,638.4 740.0,637.6 741.0,636.8 742.0,636.0 743.0,634.5 744.0,633.6 745.0,632.6 746.0,632.3 747.0,631.3 748.0,630.2 749.0,629.1 750.0,628.1 751.0,626.6 751.1,626.5 752.0,625.6 753.0,624.7 754.0,623.9 755.0,622.9 756.0,621.9 757.0,620.8 758.0,619.6 758.7,618.7 759.0,618.3 760.0,616.8 761.0,615.0 762.0,613.4 763.0,611.3 763.2,610.9 764.0,609.0 765.0,606.5 766.0,603.8 767.0,600.9 767.5,599.4 768.0,597.9 769.0,594.6 769.8,591.6 770.0,590.2 771.0,585.0 772.0,578.9 772.4,576.3 773.0,572.1 774.0,564.4 774.7,559.1 775.0,557.0 776.0,550.4 776.8,543.8 777.0,542.0 777.6,535.5 778.0,528.9 779.0,507.7 779.3,502.3 780.0,491.8 781.0,479.6 782.0,469.0 783.0,459.3 784.0,453.8 784.5,450.6 785.0,446.5 786.0,440.8 786.1,440.7 787.0,445.0 787.6,449.8 788.0,452.6 789.0,459.8 790.0,468.2 791.0,479.4 792.0,491.6 792.7,502.4 793.0,506.8 794.0,521.8 794.9,536.7 795.0,538.3 795.3,544.0 796.0,550.9 797.0,558.1 797.1,558.9 798.0,566.1 799.0,574.3 799.2,576.0 800.0,582.1 800.8,590.9 801.0,592.0 802.0,595.9 802.7,598.6 803.0,600.4 804.0,606.3 804.4,608.0 805.0,610.2 806.0,613.5 807.0,616.2 807.8,618.4 808.0,618.9 809.0,621.2 810.0,623.4 811.0,625.2 811.8,626.4 812.0,626.7 813.0,628.3 814.0,629.4 815.0,630.3 816.0,629.5 817.0,631.7 818.0,632.4 819.0,633.2 819.4,633.5 820.0,634.0 821.0,634.7 822.0,635.4 823.0,636.2 824.0,636.8 825.0,637.5 826.0,638.1 827.0,638.7 828.0,639.3 829.0,638.5 830.0,640.2 830.5,640.5 831.0,640.8 832.0,641.4 833.0,641.9 834.0,642.5 835.0,643.0 836.0,643.6 837.0,644.1 838.0,644.6 839.0,645.2 840.0,645.7 841.0,646.2 842.0,646.7 843.0,647.2 844.0,648.0 845.0,648.5 846.0,649.0 847.0,649.5 848.0,650.0 849.0,650.5 850.0,651.2 851.0,651.7 852.0,652.2 853.0,652.7 854.0,653.2 855.0,653.7 856.0,654.2 857.0,654.8 858.0,655.3 859.0,655.3 860.0,655.8 861.0,656.3 862.0,656.8 863.0,657.4 864.0,657.9 865.0,658.4 866.0,658.9 867.0,659.4 868.0,659.9 869.0,660.4 870.0,660.8 871.0,661.2 872.0,661.5 873.0,661.9 874.0,662.3 875.0,662.6 876.0,662.9 877.0,663.2 878.0,663.5 879.0,663.8 880.0,664.1 881.0,664.3 882.0,664.5 883.0,664.7 884.0,664.9 885.0,665.1 886.0,665.3 887.0,665.5 888.0,665.7 889.0,666.1 890.0,666.3 891.0,666.6 892.0,666.8 893.0,667.0 894.0,667.3 895.0,667.1 896.0,667.4 897.0,668.3 898.0,668.6 899.0,668.9 900.0,669.1 901.0,668.9 902.0,669.2 903.0,669.4 904.0,669.7 905.0,669.9 906.0,670.1 907.0,670.3 908.0,670.5 909.0,671.2 910.0,671.4 911.0,671.6 912.0,671.8 913.0,671.9 914.0,672.1 915.0,672.2 916.0,672.4 917.0,672.0 918.0,672.1 919.0,672.3 920.0,672.4 921.0,672.5 922.0,672.6 923.0,672.8 924.0,672.9 925.0,673.1 926.0,673.2 927.0,673.3 928.0,673.3 929.0,673.4 930.0,673.5 931.0,673.6 932.0,673.8 933.0,673.8 934.0,673.9 935.0,675.2 936.0,674.0 937.0,674.1 938.0,674.1 939.0,674.2 940.0,674.0 941.0,674.1 942.0,674.1 943.0,674.2 944.0,674.2 945.0,674.3 946.0,674.4 947.0,673.5 948.0,671.8 949.0,673.7 950.0,673.8 951.0,674.5 952.0,674.6 953.0,674.8 954.0,675.0 955.0,675.2 956.0,675.5 957.0,675.7 958.0,675.9 959.0,676.2 960.0,677.0 961.0,677.2 962.0,678.3 963.0,677.5 964.0,677.5 965.0,677.6 966.0,677.5 967.0,677.3 968.0,677.1 969.0,676.7 970.0,676.3 971.0,675.9 972.0,675.5 973.0,675.1 974.0,674.5 975.0,674.2 976.0,674.1 977.0,674.0 978.0,674.0 979.0,674.1 980.0,674.3 981.0,674.6 982.0,674.9 983.0,675.3 984.0,675.6 985.0,675.9 986.0,676.3 987.0,676.6 988.0,676.9 989.0,678.2 990.0,677.3 991.0,677.5 992.0,677.6 993.0,677.9 994.0,678.1 995.0,678.3 996.0,678.5 997.0,678.8 998.0,679.6 999.0,679.8 1000.0,680.0 1001.0,680.2 1002.0,680.4 1003.0,681.7 1004.0,680.7 1005.0,680.8 1006.0,680.9 1007.0,681.0 1008.0,681.0 1009.0,680.7 1010.0,680.7 1011.0,680.7 1012.0,680.7 1013.0,680.7 1014.0,680.7 1015.0,680.7 1016.0,680.7 1017.0,680.6 1018.0,680.6 1019.0,680.8 1020.0,680.7 1021.0,680.7 1022.0,680.6 1023.0,680.5 1024.0,680.5 1025.0,680.4 1026.0,680.3 1027.0,680.0 1028.0,679.9 1029.0,679.9 1030.0,679.8 1031.0,679.7 1032.0,679.5 1033.0,679.3 1034.0,679.0 1035.0,680.3 1036.0,679.1 1037.0,678.8 1038.0,677.8 1039.0,677.5 1040.0,677.1 1041.0,676.8 1042.0,676.5 1043.0,676.2 1044.0,675.8 1045.0,676.0 1046.0,675.6 1047.0,675.2 1048.0,674.9 1049.0,674.6 1050.0,674.3 1051.0,674.2 1052.0,674.1 1053.0,674.2 1054.0,674.3 1055.0,674.5 1056.0,674.9 1057.0,675.3 1058.0,675.8 1059.0,676.3 1060.0,676.8 1061.0,677.4 1062.0,677.9 1063.0,678.0 1064.0,678.5 1065.0,679.0 1066.0,680.3 1067.0,680.8 1068.0,681.4 1069.0,681.9 1070.0,682.5 1071.0,683.0 1072.0,681.6 1073.0,683.8 1074.0,683.5 1075.0,683.6 1076.0,683.6 1077.0,683.3 1078.0,683.3 1079.0,683.3 1080.0,683.3 1081.0,683.0 1082.0,683.0 1083.0,683.0 1084.0,683.0 1085.0,683.5 1086.0,683.5 1087.0,683.5 1088.0,683.5 1089.0,683.5 1090.0,683.3 1091.0,683.3 1092.0,683.3 1093.0,683.3 1094.0,683.0 1095.0,683.0 1096.0,683.2 1097.0,683.2 1098.0,683.2 1099.0,683.2 1100.0,683.2 1101.0,683.2 1102.0,683.2 1103.0,683.2 1104.0,683.2 1105.0,682.8 1106.0,682.8 1107.0,682.8 1108.0,682.8 1109.0,682.8 1110.0,682.8 1111.0,682.8 1112.0,682.8 1113.0,683.5 1114.0,683.5 1115.0,683.5 1116.0,683.5 1117.0,683.5 1118.0,683.5 1119.0,683.4 1120.0,683.9 1121.0,683.9 1122.0,683.9 1123.0,683.9 1124.0,683.9 1125.0,683.8 1126.0,682.8 1127.0,682.8 1128.0,682.8 1129.0,682.7 1130.0,682.7 1131.0,682.7 1132.0,682.6 1133.0,682.5 1134.0,682.4 1135.0,682.3 1136.0,682.4 1137.0,682.3 1138.0,682.2 1139.0,682.0 1140.0,681.9 1141.0,681.7 1142.0,681.5 1143.0,681.4 1144.0,681.2 1145.0,681.0 1146.0,680.8 1147.0,680.6 1148.0,680.4 1149.0,680.6 1150.0,680.3 1151.0,680.0 1152.0,679.6 1153.0,679.3 1154.0,678.9 1155.0,678.4 1156.0,678.0 1157.0,677.6 1158.0,677.1 1159.0,676.6 1160.0,676.2 1161.0,675.7 1162.0,675.2 1163.0,674.5 1164.0,673.8 1165.0,673.0 1166.0,672.2 1167.0,671.4 1168.0,670.7 1169.0,670.0 1170.0,669.0 1171.0,668.6 1172.0,668.3 1173.0,668.2 1174.0,668.3 1175.0,668.5 1176.0,668.8 1177.0,669.2 1178.0,669.9 1179.0,670.5 1180.0,671.1 1181.0,672.4 1182.0,673.0 1183.0,673.7 1184.0,674.3 1185.0,674.9 1186.0,675.5 1187.0,676.2 1188.0,677.0 1189.0,677.8 1190.0,678.5 1191.0,678.2 1192.0,678.3 1193.0,678.3 1194.0,678.2 1195.0,678.5 1196.0,678.3 1197.0,678.0 1198.0,677.8 1199.0,677.5 1200.0,677.1 1201.0,676.8 1202.0,676.4 1203.0,676.0 1204.0,675.6 1205.0,675.2 1206.0,674.8 1207.0,674.2 1208.0,673.6 1209.0,673.3 1210.0,672.6 1211.0,671.5 1212.0,670.7 1213.0,669.9 1214.0,669.2 1215.0,668.6 1216.0,668.0 1217.0,667.5 1218.0,667.1 1219.0,667.1 1220.0,667.0 1221.0,667.1 1222.0,667.3 1223.0,667.6 1224.0,668.0 1225.0,668.5 1226.0,669.1 1227.0,669.7 1228.0,670.0 1229.0,670.7 1230.0,671.4 1231.0,672.0 1232.0,672.7 1233.0,673.2 1234.0,673.8 1235.0,674.3 1236.0,674.7 1237.0,674.8 1238.0,675.3 1239.0,675.7 1240.0,676.1 1241.0,676.5 1242.0,677.0 1243.0,677.4 1244.0,677.7 1245.0,678.1 1246.0,678.6 1247.0,679.0 1248.0,679.3 1249.0,679.7 1250.0,680.0 1251.0,680.3 1252.0,680.6 1253.0,681.0 1254.0,681.8 1255.0,682.2 1256.0,682.5 1257.0,682.7 1258.0,682.9 1259.0,683.0 1260.0,683.1 1261.0,683.1 1262.0,682.4 1263.0,682.5 1264.0,682.7 1265.0,682.7 1266.0,682.7 1267.0,682.8 1268.0,684.2 1269.0,682.8 1270.0,682.8 1271.0,682.8 1272.0,682.8 1273.0,682.7 1274.0,682.7 1275.0,682.7 1276.0,682.8 1277.0,682.8 1278.0,682.8 1279.0,682.8 1280.0,682.8 1281.0,683.1 1282.0,683.1 1283.0,683.1 1284.0,683.1 1285.0,683.1 1286.0,683.1 1287.0,683.1 1288.0,683.1 1289.0,683.1 1290.0,683.3 1291.0,683.3 1292.0,683.3 1293.0,683.3 1294.0,683.3 1295.0,683.3 1296.0,683.3 1297.0,683.3 1298.0,684.8 1299.0,683.3 1300.0,683.3 1301.0,683.3 1302.0,683.3 1303.0,683.3 1304.0,683.0 1305.0,683.0 1306.0,682.9 1307.0,682.9 1308.0,682.9 1309.0,682.9 1310.0,682.9 1311.0,682.9 1312.0,683.3 1313.0,683.2 1314.0,683.2 1315.0,683.2 1316.0,683.2 1317.0,683.2 1318.0,683.1 1319.0,683.1 1320.0,683.1 1321.0,682.9 1322.0,682.9 1323.0,682.8 1324.0,682.8 1325.0,682.8 1326.0,682.8 1327.0,682.7 1328.0,682.7 1329.0,682.7 1330.0,682.3 1331.0,682.3 1332.0,682.2 1333.0,682.2 1334.0,682.2 1335.0,682.1 1336.0,682.5 1337.0,682.4 1338.0,682.4 1339.0,682.4 1340.0,682.3 1341.0,682.3 1342.0,682.2 1343.0,682.1 1344.0,682.1 1345.0,682.1 1346.0,682.0 1347.0,681.9 1348.0,681.8 1349.0,681.8 1350.0,681.8 1351.0,681.7 1352.0,681.7 1353.0,681.7 1354.0,681.7 1355.0,681.6 1356.0,682.6 1357.0,682.6 1358.0,682.6 1359.0,682.5 1360.0,682.5 1361.0,682.5 1362.0,682.5 1363.0,681.6 1364.0,681.6 1365.0,681.6 1366.0,681.5 1367.0,681.5 1368.0,681.5 1369.0,681.5 1370.0,681.5 1371.0,681.4 1372.0,681.6 1373.0,681.6 1374.0,681.6 1375.0,681.5 1376.0,681.5 1377.0,680.6 1378.0,680.6 1379.0,681.1 1380.0,681.0 1381.0,681.0 1382.0,681.0 1383.0,680.9 1384.0,680.9 1385.0,680.8 1386.0,681.4 1387.0,681.4 1388.0,681.3 1389.0,681.3 1390.0,681.2 1391.0,681.1 1392.0,680.4 1393.0,680.3 1394.0,680.1 1395.0,680.0 1396.0,679.8 1397.0,679.6 1398.0,679.5 1399.0,679.3 1400.0,679.1 1401.0,678.9 1402.0,678.6 1403.0,678.5 1404.0,678.2 1405.0,678.0 1406.0,677.8 1407.0,677.6 1408.0,677.4 1409.0,677.2 1410.0,676.8 1411.0,676.7 1412.0,676.5 1413.0,676.3 1414.0,676.1 1415.0,675.9 1416.0,675.8 1417.0,675.4 1418.0,675.3 1419.0,675.2 1420.0,675.2 1421.0,675.5 1422.0,675.5 1423.0,675.5 1424.0,675.5 1425.0,675.5 1426.0,675.5 1427.0,675.5 1428.0,675.5 1429.0,675.5 1430.0,674.3 1431.0,676.2 1432.0,675.8 1433.0,675.8 1434.0,675.8 1435.0,675.8 1436.0,675.8 1437.0,675.8 1438.0,675.8 1439.0,675.8 1440.0,675.8 1441.0,676.0 1442.0,676.0 1443.0,676.0 1444.0,676.0 1445.0,675.9 1446.0,675.9 1447.0,675.9 1448.0,675.9 1449.0,675.9 1450.0,675.9 1451.0,675.9 1452.0,675.9 1453.0,677.3 1454.0,674.7 1455.0,675.9 1456.0,675.9 1457.0,675.8 1458.0,675.8 1459.0,677.3 1460.0,675.8 1461.0,675.4 1462.0,675.4 1463.0,675.4 1464.0,675.5 1465.0,675.5 1466.0,676.9 1467.0,675.5 1468.0,675.1 1469.0,675.1 1470.0,675.1 1471.0,675.1 1472.0,674.7 1473.0,674.7 1474.0,674.7 1475.0,674.6 1476.0,674.6 1477.0,674.6 1478.0,673.4 1479.0,674.6 1480.0,674.6 1481.0,674.5 1482.0,674.5 1483.0,674.5 1484.0,674.5 1485.0,674.5 1486.0,675.1 1487.0,675.0 1488.0,675.0 1489.0,675.0 1490.0,675.0 1491.0,675.0 1492.0,674.9 1493.0,674.4 1494.0,674.4 1495.0,674.3 1496.0,674.3 1497.0,674.3 1498.0,674.3 1499.0,674.2 1500.0,674.2 1501.0,674.9 1502.0,674.8 1503.0,674.8 1504.0,674.8 1505.0,674.7 1506.0,674.5 1507.0,674.4 1508.0,674.4 1509.0,674.3 1510.0,674.2 1511.0,674.6 1512.0,674.6 1513.0,674.5 1514.0,673.5 1515.0,673.4 1516.0,673.4 1517.0,673.9 1518.0,673.8 1519.0,673.7 1520.0,673.6 1521.0,673.5 1522.0,673.4 1523.0,673.3 1524.0,673.2 1525.0,672.9 1526.0,672.8 1527.0,672.7 1528.0,672.6 1529.0,672.4 1530.0,672.3 1531.0,672.3 1532.0,672.2 1533.0,672.1 1534.0,672.0 1535.0,671.8 1536.0,671.7 1537.0,671.1 1538.0,671.0 1539.0,670.8 1540.0,670.7 1541.0,670.5 1542.0,670.4 1543.0,670.2 1544.0,670.3 1545.0,670.2 1546.0,670.0 1547.0,669.9 1548.0,669.7 1549.0,669.2 1550.0,669.0 1551.0,668.8 1552.0,668.6 1553.0,668.4 1554.0,668.2 1555.0,667.9 1556.0,668.3 1557.0,668.1 1558.0,667.8 1559.0,667.3 1560.0,667.0 1561.0,666.6 1562.0,666.2 1563.0,665.6 1564.0,665.0 1565.0,664.3 1566.0,663.6 1567.0,662.2 1568.0,661.4 1569.0,660.5 1570.0,659.6 1571.0,658.7 1572.0,657.8 1573.0,657.2 1574.0,656.3 1575.0,655.6 1576.0,654.7 1577.0,653.6 1578.0,652.4 1579.0,651.1 1580.0,649.9 1581.0,648.7 1582.0,647.6 1583.0,646.6 1584.0,645.7 1585.0,644.9 1586.0,644.3 1587.0,643.6 1588.0,643.2 1589.0,642.6 1590.0,643.4 1591.0,642.2 1592.0,641.1 1593.0,642.6 1594.0,643.1 1595.0,643.9 1596.0,644.7 1597.0,645.1 1598.0,646.0 1599.0,646.9 1600.0,647.8 1601.0,648.7 1602.0,649.9 1603.0,651.3 1604.0,653.0 1605.0,654.6 1606.0,654.4 1607.0,657.6 1608.0,659.0 1609.0,660.3 1610.0,661.4 1611.0,662.6 1612.0,663.6 1613.0,664.6 1614.0,665.2 1615.0,666.1 1616.0,667.0 1617.0,667.9 1618.0,668.7 1619.0,669.4 1620.0,670.2 1621.0,670.8 1622.0,671.4 1623.0,671.9 1624.0,672.4 1625.0,672.8 1626.0,673.2 1627.0,673.5 1628.0,673.9 1629.0,674.5 1630.0,674.8 1631.0,675.1 1632.0,675.4 1633.0,675.7 1634.0,675.0 1635.0,676.2 1636.0,676.5 1637.0,676.7 1638.0,679.0 1639.0,677.2 1640.0,677.4 1641.0,677.6 1642.0,677.8 1643.0,677.9 1644.0,677.9 1645.0,678.0 1646.0,678.1 1647.0,678.2 1648.0,678.3 1649.0,677.8 1650.0,677.9 1651.0,677.9 1652.0,678.0 1653.0,678.1 1654.0,678.1 1655.0,678.9 1656.0,678.9 1657.0,679.0 1658.0,679.0 1659.0,679.1 1660.0,679.1 1661.0,679.2 1662.0,679.2 1663.0,678.9 1664.0,678.9 1665.0,679.0 1666.0,679.0 1667.0,679.0 1668.0,679.1 1669.0,679.1 1670.0,679.1 1671.0,679.2 1672.0,679.3 1673.0,679.3 1674.0,679.4 1675.0,679.4 1676.0,680.3 1677.0,680.3 1678.0,680.4 1679.0,679.8 1680.0,679.8 1681.0,679.9 1682.0,679.9 1683.0,679.4 1684.0,679.4 1685.0,679.5 1686.0,679.5 1687.0,679.5 1688.0,679.5 1689.0,679.9 1690.0,680.0 1691.0,678.9 1692.0,680.0 1693.0,680.0 1694.0,680.8 1695.0,680.8 1696.0,680.8 1697.0,679.6 1698.0,679.7 1699.0,679.7 1700.0,680.4 1701.0,680.5 1702.0,680.5 1703.0,680.5 1704.0,680.6 1705.0,680.6 1706.0,680.6 1707.0,680.7 1708.0,680.6 1709.0,680.6 1710.0,680.7 1711.0,680.7 1712.0,680.2 1713.0,680.2 1714.0,680.3 1715.0,680.3 1716.0,681.5 1717.0,681.5 1718.0,681.6 1719.0,681.6 1720.0,681.7 1721.0,680.6 1722.0,680.7 1723.0,680.7 1724.0,680.7 1725.0,680.8 1726.0,680.8 1727.0,680.8 1728.0,680.9 1729.0,681.3 1730.0,681.4 1731.0,681.4 1732.0,682.3 1733.0,681.2 1734.0,682.4 1735.0,682.4 1736.0,682.4 1737.0,682.5 1738.0,681.8 1739.0,681.8 1740.0,682.2 1741.0,682.3 1742.0,682.3 1743.0,682.3 1744.0,681.9 1745.0,681.9 1746.0,681.9 1747.0,682.0 1748.0,682.0 1749.0,682.0 1750.0,682.1 1751.0,682.1" stroke="#0000ff"/>
<path d="M149.0,977.1 150.0,977.0 151.0,977.4 152.0,977.3 153.0,976.8 154.0,976.7 155.0,977.3 156.0,977.3 157.0,977.2 158.0,977.2 159.0,977.1 160.0,977.1 161.0,977.1 162.0,976.6 163.0,978.5 164.0,976.5 165.0,976.0 166.0,976.0 167.0,975.9 168.0,975.9 169.0,975.8 170.0,975.7 171.0,975.6 172.0,975.6 173.0,975.6 174.0,975.5 175.0,975.4 176.0,975.2 177.0,975.5 178.0,975.3 179.0,975.2 180.0,974.4 181.0,974.2 182.0,974.0 183.0,973.8 184.0,973.6 185.0,973.1 186.0,972.8 187.0,972.6 188.0,972.4 189.0,972.2 190.0,972.0 191.0,971.8 192.0,971.9 193.0,971.7 194.0,971.5 195.0,971.3 196.0,971.0 197.0,970.8 198.0,970.8 199.0,970.6 200.0,972.0 201.0,969.8 202.0,969.5 203.0,969.3 204.0,969.4 205.0,969.2 206.0,968.9 207.0,968.5 208.0,968.2 209.0,968.0 210.0,967.7 211.0,967.4 212.0,967.1 213.0,966.9 214.0,966.6 215.0,966.3 216.0,966.0 217.0,965.7 218.0,964.7 219.0,964.4 220.0,964.1 221.0,963.8 222.0,963.5 223.0,963.2 224.0,962.9 225.0,962.6 226.0,963.1 227.0,962.8 228.0,962.5 229.0,962.2 230.0,961.9 231.0,961.6 232.0,961.3 233.0,961.0 234.0,960.6 235.0,959.4 236.0,959.1 237.0,958.8 238.0,958.4 239.0,958.1 240.0,957.8 241.0,957.5 242.0,957.1 243.0,956.8 244.0,956.5 245.0,956.2 246.0,955.9 247.0,955.7 248.0,955.4 249.0,955.2 250.0,955.0 251.0,955.1 252.0,954.9 253.0,954.7 254.0,956.0 255.0,954.8 256.0,954.6 257.0,954.4 258.0,954.1 259.0,953.9 260.0,953.8 261.0,953.6 262.0,953.5 263.0,953.3 264.0,953.2 265.0,953.0 266.0,953.1 267.0,953.0 268.0,952.8 269.0,952.7 270.0,952.2 271.0,952.1 272.0,951.9 273.0,953.8 274.0,951.7 275.0,951.5 276.0,951.3 277.0,951.2 278.0,952.4 279.0,950.9 280.0,950.8 281.0,950.7 282.0,950.0 283.0,949.9 284.0,949.9 285.0,950.0 286.0,950.0 287.0,951.1 288.0,951.1 289.0,951.1 290.0,951.2 291.0,951.2 292.0,951.3 293.0,951.3 294.0,950.9 295.0,950.9 296.0,951.0 297.0,951.1 298.0,951.1 299.0,951.2 300.0,951.3 301.0,951.4 302.0,951.4 303.0,951.5 304.0,951.6 305.0,951.7 306.0,951.8 307.0,951.9 308.0,952.0 309.0,952.2 310.0,952.3 311.0,953.3 312.0,952.6 313.0,952.8 314.0,952.9 315.0,953.1 316.0,953.3 317.0,953.2 318.0,953.4 319.0,953.5 320.0,953.7 321.0,953.9 322.0,954.0 323.0,954.2 324.0,954.4 325.0,954.8 326.0,955.0 327.0,955.2 328.0,955.4 329.0,955.6 330.0,955.9 331.0,956.1 332.0,956.3 333.0,956.5 334.0,956.4 335.0,956.6 336.0,957.6 337.0,957.8 338.0,958.0 339.0,958.2 340.0,958.4 341.0,958.6 342.0,958.8 343.0,959.0 344.0,959.1 345.0,959.3 346.0,959.5 347.0,959.7 348.0,959.8 349.0,960.0 350.0,960.2 351.0,960.4 352.0,960.5 353.0,960.6 354.0,960.7 355.0,960.9 356.0,961.2 357.0,961.3 358.0,961.5 359.0,962.6 360.0,961.8 361.0,962.0 362.0,961.4 363.0,961.6 364.0,961.8 365.0,962.0 366.0,962.2 367.0,962.3 368.0,962.5 369.0,962.7 370.0,962.8 371.0,963.0 372.0,963.2 373.0,963.4 374.0,963.6 375.0,963.7 376.0,963.9 377.0,964.1 378.0,964.2 379.0,964.4 380.0,964.5 381.0,964.7 382.0,964.8 383.0,965.0 384.0,965.2 385.0,965.4 386.0,965.6 387.0,965.8 388.0,966.0 389.0,966.1 390.0,966.3 391.0,966.5 392.0,967.1 393.0,967.2 394.0,967.4 395.0,967.6 396.0,967.6 397.0,967.7 398.0,967.9 399.0,968.1 400.0,968.2 401.0,968.3 402.0,968.4 403.0,968.5 404.0,968.6 405.0,968.8 406.0,968.9 407.0,969.0 408.0,969.1 409.0,969.3 410.0,969.4 411.0,969.3 412.0,969.4 413.0,969.6 414.0,969.7 415.0,970.2 416.0,970.3 417.0,970.1 418.0,970.3 419.0,970.4 420.0,970.5 421.0,970.7 422.0,970.8 423.0,971.0 424.0,971.1 425.0,972.1 426.0,972.3 427.0,972.5 428.0,971.9 429.0,972.1 430.0,972.3 431.0,972.5 432.0,972.6 433.0,972.8 434.0,972.9 435.0,973.0 436.0,973.1 437.0,973.8 438.0,973.9 439.0,973.3 440.0,974.5 441.0,973.2 442.0,973.2 443.0,973.2 444.0,973.1 445.0,973.6 446.0,973.6 447.0,973.6 448.0,973.4 449.0,973.3 450.0,973.3 451.0,973.3 452.0,973.3 453.0,973.2 454.0,973.2 455.0,973.2 456.0,973.1 457.0,973.1 458.0,973.1 459.0,973.0 460.0,973.0 461.0,972.9 462.0,972.9 463.0,972.8 464.0,972.8 465.0,972.7 466.0,972.8 467.0,972.6 468.0,972.2 469.0,971.9 470.0,970.8 471.0,970.3 472.0,969.9 473.0,969.5 474.0,969.2 475.0,969.0 476.0,969.0 477.0,969.1 478.0,969.8 479.0,970.2 480.0,970.7 481.0,971.2 482.0,971.8 483.0,972.4 484.0,972.9 485.0,973.3 486.0,973.7 487.0,973.8 488.0,973.8 489.0,973.4 490.0,975.0 491.0,973.4 492.0,973.4 493.0,973.4 494.0,973.3 495.0,973.3 496.0,973.4 497.0,973.3 498.0,973.3 499.0,973.3 500.0,973.3 501.0,973.2 502.0,973.2 503.0,973.2 504.0,973.3 505.0,973.2 506.0,973.2 507.0,973.2 508.0,973.1 509.0,973.1 510.0,973.1 511.0,973.0 512.0,972.8 513.0,972.8 514.0,972.7 515.0,972.7 516.0,972.5 517.0,972.5 518.0,972.5 519.0,972.4 520.0,972.4 521.0,972.3 522.0,972.5 523.0,972.5 524.0,972.4 525.0,972.4 526.0,972.3 527.0,972.3 528.0,972.3 529.0,972.0 530.0,970.5 531.0,972.0 532.0,971.9 533.0,971.9 534.0,972.4 535.0,972.3 536.0,972.3 537.0,972.2 538.0,972.2 539.0,972.1 540.0,972.0 541.0,972.0 542.0,971.8 543.0,971.8 544.0,971.2 545.0,971.2 546.0,971.1 547.0,971.0 548.0,970.8 549.0,970.7 550.0,970.6 551.0,970.5 552.0,970.3 553.0,970.2 554.0,970.0 555.0,969.8 556.0,969.6 557.0,969.7 558.0,969.5 559.0,969.2 560.0,969.0 561.0,969.0 562.0,968.7 563.0,968.3 564.0,968.0 565.0,967.9 566.0,967.7 567.0,967.4 568.0,967.1 569.0,966.8 570.0,966.5 571.0,966.0 572.0,965.6 573.0,965.2 574.0,963.2 575.0,964.3 576.0,963.8 577.0,963.3 578.0,962.6 579.0,961.9 580.0,960.7 581.0,959.1 582.0,957.5 583.0,954.9 584.0,954.1 585.0,952.7 586.0,951.3 587.0,949.5 588.0,948.0 589.0,947.1 590.0,946.7 591.0,947.1 592.0,948.1 593.0,949.6 594.0,951.3 595.0,952.9 596.0,954.1 597.0,955.3 598.0,956.5 599.0,957.8 600.0,959.1 601.0,960.2 602.0,961.3 603.0,962.2 604.0,963.4 605.0,963.8 606.0,964.1 607.0,964.4 608.0,964.7 609.0,964.8 610.0,965.1 611.0,965.3 612.0,965.5 613.0,965.6 614.0,965.8 615.0,965.3 616.0,965.4 617.0,965.5 618.0,965.6 619.0,964.5 620.0,965.6 621.0,966.0 622.0,966.0 623.0,965.9 624.0,965.9 625.0,967.4 626.0,965.9 627.0,966.2 628.0,966.2 629.0,964.5 630.0,966.1 631.0,966.0 632.0,966.0 633.0,966.0 634.0,965.5 635.0,965.4 636.0,965.7 637.0,965.6 638.0,965.5 639.0,965.5 640.0,965.4 641.0,965.3 642.0,965.2 643.0,965.1 644.0,964.9 645.0,964.3 646.0,964.1 647.0,963.9 648.0,963.7 649.0,964.1 650.0,963.9 651.0,963.7 652.0,963.4 653.0,963.1 654.0,962.8 655.0,962.2 656.0,961.9 657.0,961.6 658.0,961.2 659.0,960.9 660.0,960.6 661.0,960.2 661.4,960.1 662.0,959.5 663.0,959.1 664.0,958.6 665.0,958.2 666.0,958.0 667.0,957.5 668.0,957.1 669.0,956.6 670.0,956.1 671.0,955.6 672.0,955.2 672.8,954.9 673.0,954.7 674.0,954.3 675.0,953.9 676.0,953.5 677.0,953.1 678.0,952.7 679.0,952.3 680.0,951.9 681.0,951.5 682.0,951.1 683.0,950.7 684.0,950.8 684.1,950.7 685.0,950.0 686.0,949.6 687.0,949.2 688.0,948.9 689.0,948.1 690.0,947.7 691.0,947.3 692.0,946.7 693.0,946.3 694.0,946.5 695.0,946.1 695.5,945.9 696.0,945.6 697.0,945.2 698.0,944.7 699.0,944.2 700.0,943.7 701.0,943.2 702.0,942.7 703.0,942.2 704.0,941.7 705.0,941.2 706.0,940.6 706.9,939.9 707.0,939.8 708.0,939.3 709.0,938.7 710.0,938.2 711.0,937.6 712.0,937.0 713.0,936.2 714.0,935.6 715.0,935.0 716.0,934.5 717.0,933.8 718.0,933.1 718.3,932.9 719.0,932.4 720.0,931.6 721.0,930.8 722.0,930.0 723.0,929.1 724.0,928.0 725.0,927.1 726.0,926.2 727.0,926.0 728.0,925.0 729.0,924.0 729.6,923.4 730.0,922.9 731.0,921.9 732.0,920.8 733.0,919.8 734.0,918.6 735.0,917.1 736.0,915.9 737.0,914.7 738.0,913.5 739.0,912.2 740.0,911.0 741.0,908.3 742.0,908.3 743.0,906.9 744.0,905.5 745.0,904.0 746.0,902.5 747.0,901.2 748.0,899.6 748.6,898.7 749.0,898.1 750.0,896.5 751.0,895.0 752.0,894.6 753.0,891.9 754.0,890.3 755.0,888.6 756.0,886.8 757.0,884.9 758.0,882.9 758.6,881.6 759.0,880.7 760.0,878.4 761.0,875.7 762.0,872.9 763.0,869.8 764.0,866.4 764.5,864.6 765.0,862.7 766.0,857.8 767.0,852.8 767.7,849.5 768.0,848.0 769.0,843.7 770.0,839.5 771.0,836.2 772.0,829.7 772.1,829.2 773.0,823.8 774.0,817.6 775.0,810.4 775.1,809.7 776.0,803.0 777.0,794.6 777.6,789.4 778.0,785.6 779.0,775.0 779.6,769.5 780.0,767.4 781.0,760.9 781.9,755.5 782.0,754.9 783.0,747.9 784.0,742.2 784.5,739.7 785.0,737.2 786.0,733.8 787.0,728.9 787.3,729.1 788.0,730.2 789.0,734.7 790.0,740.1 791.0,746.0 792.0,752.6 792.3,754.6 793.0,758.8 794.0,765.2 794.5,769.3 795.0,775.6 796.0,789.6 797.0,801.2 797.8,809.5 798.0,811.7 799.0,821.3 800.0,829.7 801.0,836.1 802.0,841.6 803.0,846.9 803.5,849.6 804.0,852.6 805.0,858.6 806.0,863.8 807.0,868.0 808.0,871.8 809.0,875.2 810.0,878.4 811.0,881.1 812.0,884.5 813.0,887.9 814.0,891.1 815.0,894.0 815.6,895.4 816.0,896.8 817.0,898.9 818.0,900.8 819.0,902.0 820.0,903.6 821.0,905.2 822.0,906.6 823.0,908.0 824.0,910.0 824.2,910.2 825.0,911.3 826.0,912.5 827.0,913.7 828.0,914.9 829.0,916.0 830.0,917.1 831.0,917.8 832.0,918.8 833.0,919.8 834.0,920.7 835.0,921.8 836.0,922.7 837.0,923.6 837.7,924.2 838.0,924.5 839.0,925.3 840.0,927.1 841.0,926.2 842.0,926.9 843.0,927.7 844.0,928.4 845.0,929.1 846.0,929.7 847.0,930.4 848.0,931.4 849.0,932.1 850.0,932.7 851.0,933.4 851.9,934.0 852.0,934.0 853.0,934.7 854.0,935.3 855.0,935.9 856.0,936.8 857.0,937.4 858.0,938.0 859.0,938.6 860.0,938.7 861.0,939.2 862.0,939.8 863.0,940.6 864.0,942.2 865.0,941.7 866.0,942.2 866.1,942.9 867.0,943.4 868.0,943.3 869.0,943.8 870.0,944.3 871.0,945.0 872.0,945.5 873.0,946.0 874.0,946.5 875.0,947.0 876.0,947.5 877.0,948.0 878.0,948.6 879.0,949.1 880.0,949.6 880.3,949.7 881.0,950.1 882.0,950.6 883.0,950.3 884.0,950.8 885.0,951.8 886.0,952.2 887.0,952.7 888.0,953.2 889.0,953.7 890.0,954.2 891.0,954.7 892.0,953.3 893.0,955.8 893.2,956.1 894.0,956.5 895.0,957.1 896.0,957.8 897.0,958.4 898.0,959.1 899.0,959.8 900.0,960.7 901.0,961.4 902.0,962.1 903.0,962.7 904.0,963.1 905.0,963.7 906.0,964.2 907.0,964.7 908.0,965.0 909.0,965.4 910.0,965.4 911.0,965.7 912.0,965.9 913.0,966.2 914.0,966.8 915.0,967.0 916.0,967.3 917.0,967.5 918.0,967.7 919.0,968.0 920.0,968.2 921.0,968.4 922.0,968.6 923.0,968.7 924.0,968.9 925.0,969.1 926.0,969.4 927.0,969.6 928.0,969.8 929.0,969.6 930.0,969.9 931.0,970.1 932.0,970.3 933.0,970.5 934.0,970.7 935.0,971.5 936.0,971.7 937.0,971.7 938.0,971.9 939.0,972.2 940.0,972.4 941.0,972.6 942.0,972.8 943.0,973.0 944.0,973.1 945.0,973.3 946.0,973.3 947.0,973.4 948.0,973.6 949.0,973.8 950.0,973.9 951.0,974.1 952.0,974.5 953.0,974.6 954.0,975.6 955.0,974.9 956.0,975.0 957.0,975.1 958.0,975.2 959.0,975.6 960.0,975.7 961.0,975.8 962.0,975.9 963.0,976.0 964.0,975.8 965.0,976.0 966.0,976.1 967.0,976.2 968.0,976.4 969.0,976.5 970.0,976.7 971.0,976.8 972.0,977.0 973.0,978.4 974.0,977.5 975.0,977.7 976.0,978.0 977.0,978.2 978.0,978.4 979.0,978.6 980.0,978.8 981.0,979.1 982.0,979.3 983.0,979.5 984.0,979.7 985.0,979.8 986.0,980.0 987.0,980.2 988.0,980.4 989.0,980.6 990.0,980.8 991.0,981.5 992.0,981.7 993.0,981.9 994.0,982.1 995.0,982.3 996.0,981.2 997.0,982.7 998.0,982.5 999.0,982.7 1000.0,982.8 1001.0,983.7 1002.0,983.9 1003.0,984.0 1004.0,984.2 1005.0,983.6 1006.0,983.7 1007.0,983.8 1008.0,983.9 1009.0,984.8 1010.0,984.9 1011.0,984.9 1012.0,985.0 1013.0,983.3 1014.0,985.1 1015.0,985.2 1016.0,985.3 1017.0,985.3 1018.0,984.5 1019.0,984.6 1020.0,984.6 1021.0,983.2 1022.0,984.7 1023.0,984.9 1024.0,985.0 1025.0,985.0 1026.0,985.0 1027.0,985.1 1028.0,985.1 1029.0,985.1 1030.0,985.1 1031.0,985.3 1032.0,985.2 1033.0,985.1 1034.0,984.9 1035.0,984.7 1036.0,984.9 1037.0,984.6 1038.0,984.4 1039.0,984.1 1040.0,983.8 1041.0,983.1 1042.0,982.8 1043.0,982.6 1044.0,983.7 1045.0,981.5 1046.0,981.0 1047.0,980.5 1048.0,979.6 1049.0,979.3 1050.0,979.2 1051.0,979.3 1052.0,979.6 1053.0,980.9 1054.0,981.5 1055.0,982.1 1056.0,982.8 1057.0,983.5 1058.0,984.1 1059.0,984.6 1060.0,985.0 1061.0,984.3 1062.0,984.6 1063.0,984.8 1064.0,985.1 1065.0,985.3 1066.0,985.6 1067.0,985.8 1068.0,986.3 1069.0,986.5 1070.0,986.3 1071.0,986.5 1072.0,986.7 1073.0,986.8 1074.0,987.0 1075.0,987.1 1076.0,987.2 1077.0,987.9 1078.0,988.0 1079.0,988.0 1080.0,988.0 1081.0,988.0 1082.0,988.0 1083.0,988.0 1084.0,987.4 1085.0,987.4 1086.0,987.4 1087.0,987.4 1088.0,987.4 1089.0,987.4 1090.0,987.4 1091.0,987.4 1092.0,987.6 1093.0,987.6 1094.0,987.6 1095.0,987.6 1096.0,987.6 1097.0,987.6 1098.0,987.6 1099.0,987.4 1100.0,987.4 1101.0,987.7 1102.0,985.8 1103.0,988.4 1104.0,988.4 1105.0,988.4 1106.0,988.4 1107.0,988.4 1108.0,988.4 1109.0,988.4 1110.0,988.4 1111.0,988.4 1112.0,987.9 1113.0,989.1 1114.0,987.9 1115.0,987.2 1116.0,987.2 1117.0,987.2 1118.0,987.2 1119.0,987.1 1120.0,987.1 1121.0,987.1 1122.0,987.1 1123.0,987.1 1124.0,987.1 1125.0,987.1 1126.0,987.1 1127.0,987.6 1128.0,987.6 1129.0,987.5 1130.0,987.5 1131.0,987.5 1132.0,987.4 1133.0,987.4 1134.0,986.3 1135.0,987.3 1136.0,987.0 1137.0,987.0 1138.0,986.9 1139.0,986.9 1140.0,986.8 1141.0,986.7 1142.0,986.6 1143.0,986.5 1144.0,986.4 1145.0,986.2 1146.0,986.0 1147.0,985.8 1148.0,985.6 1149.0,985.4 1150.0,984.7 1151.0,984.4 1152.0,984.1 1153.0,983.7 1154.0,983.2 1155.0,982.7 1156.0,982.2 1157.0,982.2 1158.0,981.7 1159.0,981.1 1160.0,980.5 1161.0,980.0 1162.0,978.9 1163.0,978.4 1164.0,977.8 1165.0,977.1 1166.0,975.1 1167.0,975.8 1168.0,975.1 1169.0,974.6 1170.0,974.5 1171.0,974.2 1172.0,974.1 1173.0,974.2 1174.0,974.5 1175.0,975.0 1176.0,975.6 1177.0,976.5 1178.0,977.2 1179.0,977.8 1180.0,978.5 1181.0,979.2 1182.0,979.6 1183.0,979.9 1184.0,980.2 1185.0,980.4 1186.0,980.7 1187.0,980.9 1188.0,981.2 1189.0,981.4 1190.0,981.4 1191.0,981.5 1192.0,981.7 1193.0,981.8 1194.0,981.8 1195.0,981.8 1196.0,981.8 1197.0,981.7 1198.0,981.5 1199.0,981.3 1200.0,980.5 1201.0,980.2 1202.0,979.9 1203.0,979.6 1204.0,979.2 1205.0,978.9 1206.0,977.0 1207.0,978.1 1208.0,978.4 1209.0,978.0 1210.0,977.7 1211.0,977.3 1212.0,976.4 1213.0,975.8 1214.0,975.3 1215.0,974.7 1216.0,974.2 1217.0,973.6 1218.0,973.1 1219.0,972.7 1220.0,972.8 1221.0,972.6 1222.0,972.5 1223.0,972.5 1224.0,972.7 1225.0,973.0 1226.0,972.4 1227.0,973.9 1228.0,974.4 1229.0,974.9 1230.0,975.4 1231.0,975.9 1232.0,976.4 1233.0,976.9 1234.0,977.4 1235.0,977.8 1236.0,978.3 1237.0,978.6 1238.0,979.0 1239.0,979.4 1240.0,979.7 1241.0,980.1 1242.0,980.5 1243.0,980.8 1244.0,981.2 1245.0,981.2 1246.0,981.5 1247.0,981.9 1248.0,982.2 1249.0,983.1 1250.0,983.4 1251.0,983.7 1252.0,984.0 1253.0,984.3 1254.0,984.5 1255.0,984.7 1256.0,985.0 1257.0,985.3 1258.0,985.5 1259.0,985.8 1260.0,985.7 1261.0,986.0 1262.0,986.3 1263.0,986.5 1264.0,986.8 1265.0,986.7 1266.0,986.9 1267.0,987.2 1268.0,987.4 1269.0,987.6 1270.0,987.7 1271.0,988.4 1272.0,988.5 1273.0,988.6 1274.0,988.7 1275.0,988.3 1276.0,988.3 1277.0,988.3 1278.0,988.3 1279.0,988.3 1280.0,988.4 1281.0,988.4 1282.0,988.4 1283.0,988.4 1284.0,988.0 1285.0,988.0 1286.0,987.1 1287.0,988.0 1288.0,986.3 1289.0,988.0 1290.0,988.0 1291.0,988.0 1292.0,988.4 1293.0,988.4 1294.0,988.4 1295.0,988.4 1296.0,988.4 1297.0,988.4 1298.0,988.4 1299.0,988.4 1300.0,988.4 1301.0,989.1 1302.0,989.1 1303.0,989.0 1304.0,988.9 1305.0,988.8 1306.0,988.0 1307.0,987.8 1308.0,987.7 1309.0,987.5 1310.0,987.4 1311.0,987.2 1312.0,987.0 1313.0,986.8 1314.0,986.7 1315.0,984.4 1316.0,986.2 1317.0,986.1 1318.0,985.9 1319.0,985.8 1320.0,986.3 1321.0,986.2 1322.0,984.2 1323.0,985.7 1324.0,985.7 1325.0,985.6 1326.0,985.6 1327.0,985.6 1328.0,985.5 1329.0,985.5 1330.0,985.7 1331.0,985.6 1332.0,985.6 1333.0,985.6 1334.0,985.5 1335.0,985.5 1336.0,985.4 1337.0,985.8 1338.0,985.7 1339.0,985.7 1340.0,985.6 1341.0,985.6 1342.0,985.0 1343.0,984.9 1344.0,984.8 1345.0,984.2 1346.0,984.1 1347.0,984.0 1348.0,983.9 1349.0,983.8 1350.0,983.7 1351.0,983.6 1352.0,984.5 1353.0,984.4 1354.0,984.3 1355.0,984.2 1356.0,984.1 1357.0,983.5 1358.0,983.5 1359.0,983.6 1360.0,983.5 1361.0,983.4 1362.0,983.4 1363.0,983.3 1364.0,983.3 1365.0,983.2 1366.0,983.2 1367.0,983.4 1368.0,983.3 1369.0,983.3 1370.0,983.2 1371.0,982.9 1372.0,982.9 1373.0,982.8 1374.0,982.8 1375.0,982.6 1376.0,982.6 1377.0,982.5 1378.0,982.5 1379.0,982.3 1380.0,982.3 1381.0,982.2 1382.0,982.2 1383.0,982.1 1384.0,982.0 1385.0,981.4 1386.0,981.3 1387.0,981.3 1388.0,981.2 1389.0,981.6 1390.0,981.5 1391.0,981.4 1392.0,981.3 1393.0,981.5 1394.0,981.4 1395.0,981.2 1396.0,981.1 1397.0,980.9 1398.0,980.7 1399.0,980.5 1400.0,980.3 1401.0,980.1 1402.0,979.6 1403.0,979.4 1404.0,979.2 1405.0,979.0 1406.0,978.8 1407.0,978.6 1408.0,978.5 1409.0,977.9 1410.0,977.8 1411.0,977.6 1412.0,977.5 1413.0,977.3 1414.0,977.7 1415.0,977.5 1416.0,977.7 1417.0,977.6 1418.0,977.4 1419.0,977.3 1420.0,977.2 1421.0,977.1 1422.0,977.0 1423.0,976.9 1424.0,976.3 1425.0,976.2 1426.0,976.1 1427.0,976.8 1428.0,976.7 1429.0,976.7 1430.0,976.6 1431.0,976.5 1432.0,976.4 1433.0,976.3 1434.0,977.5 1435.0,975.5 1436.0,975.4 1437.0,975.3 1438.0,975.2 1439.0,974.8 1440.0,974.7 1441.0,974.5 1442.0,974.5 1443.0,974.4 1444.0,974.3 1445.0,974.2 1446.0,974.8 1447.0,974.7 1448.0,974.6 1449.0,974.5 1450.0,974.5 1451.0,974.4 1452.0,974.4 1453.0,974.3 1454.0,974.2 1455.0,974.1 1456.0,973.9 1457.0,973.8 1458.0,973.8 1459.0,973.7 1460.0,973.6 1461.0,973.5 1462.0,973.4 1463.0,973.7 1464.0,973.6 1465.0,973.5 1466.0,973.4 1467.0,973.4 1468.0,973.3 1469.0,973.2 1470.0,972.8 1471.0,972.7 1472.0,972.7 1473.0,972.6 1474.0,972.5 1475.0,972.4 1476.0,972.3 1477.0,972.3 1478.0,972.2 1479.0,971.7 1480.0,971.6 1481.0,971.5 1482.0,971.4 1483.0,971.4 1484.0,971.3 1485.0,971.2 1486.0,971.8 1487.0,971.7 1488.0,971.7 1489.0,971.6 1490.0,972.0 1491.0,973.3 1492.0,971.8 1493.0,971.8 1494.0,971.7 1495.0,971.6 1496.0,971.5 1497.0,970.8 1498.0,970.7 1499.0,970.6 1500.0,972.3 1501.0,970.4 1502.0,970.3 1503.0,969.7 1504.0,969.6 1505.0,969.5 1506.0,969.8 1507.0,969.8 1508.0,969.9 1509.0,969.8 1510.0,969.7 1511.0,969.7 1512.0,969.6 1513.0,969.5 1514.0,969.4 1515.0,969.4 1516.0,969.3 1517.0,969.4 1518.0,969.3 1519.0,969.2 1520.0,971.5 1521.0,969.5 1522.0,969.4 1523.0,968.5 1524.0,968.4 1525.0,968.3 1526.0,968.2 1527.0,968.5 1528.0,968.4 1529.0,968.3 1530.0,967.8 1531.0,967.7 1532.0,967.6 1533.0,967.5 1534.0,967.4 1535.0,967.8 1536.0,967.7 1537.0,967.6 1538.0,967.4 1539.0,967.3 1540.0,967.2 1541.0,967.0 1542.0,966.6 1543.0,966.4 1544.0,966.2 1545.0,966.0 1546.0,965.7 1547.0,965.5 1548.0,965.2 1549.0,964.9 1550.0,964.7 1551.0,964.4 1552.0,964.1 1553.0,963.8 1554.0,963.5 1555.0,963.2 1556.0,962.8 1557.0,962.5 1558.0,962.1 1559.0,961.7 1560.0,961.4 1561.0,961.0 1562.0,960.0 1563.0,959.5 1564.0,959.1 1565.0,958.6 1566.0,958.4 1567.0,957.8 1568.0,957.3 1569.0,956.7 1570.0,956.2 1571.0,955.7 1572.0,955.1 1573.0,954.6 1574.0,954.1 1575.0,953.5 1576.0,953.0 1577.0,952.4 1578.0,952.1 1579.0,951.5 1580.0,950.8 1581.0,950.1 1582.0,949.4 1583.0,948.2 1584.0,947.6 1585.0,947.1 1586.0,947.6 1587.0,946.0 1588.0,946.1 1589.0,945.9 1590.0,945.8 1591.0,945.9 1592.0,946.1 1593.0,946.5 1594.0,946.9 1595.0,947.5 1596.0,948.1 1597.0,948.9 1598.0,949.6 1599.0,950.4 1600.0,951.7 1601.0,952.6 1602.0,953.0 1603.0,953.9 1604.0,954.7 1605.0,955.5 1606.0,956.2 1607.0,957.1 1608.0,958.0 1609.0,958.9 1610.0,959.4 1611.0,960.4 1612.0,961.3 1613.0,962.3 1614.0,963.3 1615.0,965.2 1616.0,966.1 1617.0,967.0 1618.0,967.8 1619.0,968.6 1620.0,969.1 1621.0,969.7 1622.0,970.3 1623.0,970.9 1624.0,971.7 1625.0,972.3 1626.0,972.8 1627.0,973.4 1628.0,973.9 1629.0,974.5 1630.0,975.0 1631.0,975.4 1632.0,975.9 1633.0,975.9 1634.0,976.4 1635.0,976.8 1636.0,977.1 1637.0,977.5 1638.0,977.8 1639.0,978.4 1640.0,978.7 1641.0,979.0 1642.0,979.2 1643.0,979.2 1644.0,979.4 1645.0,979.7 1646.0,979.9 1647.0,980.1 1648.0,980.3 1649.0,980.5 1650.0,980.7 1651.0,981.1 1652.0,981.3 1653.0,981.4 1654.0,981.6 1655.0,981.7 1656.0,981.9 1657.0,982.0 1658.0,982.2 1659.0,982.4 1660.0,982.6 1661.0,983.0 1662.0,983.2 1663.0,983.3 1664.0,983.5 1665.0,983.6 1666.0,983.8 1667.0,983.9 1668.0,983.0 1669.0,983.2 1670.0,983.3 1671.0,983.5 1672.0,984.6 1673.0,984.8 1674.0,984.9 1675.0,985.1 1676.0,986.5 1677.0,984.7 1678.0,984.8 1679.0,985.0 1680.0,986.7 1681.0,985.2 1682.0,985.4 1683.0,986.0 1684.0,986.1 1685.0,986.3 1686.0,986.4 1687.0,986.5 1688.0,986.6 1689.0,986.7 1690.0,986.8 1691.0,986.9 1692.0,986.7 1693.0,986.8 1694.0,986.9 1695.0,987.0 1696.0,987.1 1697.0,987.2 1698.0,987.2 1699.0,987.3 1700.0,987.3 1701.0,986.8 1702.0,986.9 1703.0,987.2 1704.0,987.2 1705.0,987.3 1706.0,987.3 1707.0,987.3 1708.0,987.3 1709.0,987.3 1710.0,987.4 1711.0,987.4 1712.0,987.4 1713.0,987.5 1714.0,987.5 1715.0,987.5 1716.0,987.6 1717.0,987.6 1718.0,987.7 1719.0,987.7 1720.0,987.5 1721.0,987.6 1722.0,987.6 1723.0,987.9 1724.0,988.0 1725.0,988.0 1726.0,988.0 1727.0,988.0 1728.0,988.3 1729.0,988.3 1730.0,988.3 1731.0,987.7 1732.0,987.8 1733.0,987.8 1734.0,987.8 1735.0,987.8 1736.0,987.8 1737.0,987.9 1738.0,987.9 1739.0,987.9 1740.0,987.9 1741.0,987.9 1742.0,987.9 1743.0,988.8 1744.0,988.8 1745.0,988.6 1746.0,988.6 1747.0,988.6 1748.0,988.7 1749.0,988.7 1750.0,988.7 1751.0,989.6" stroke="#ff00ff"/>
<path d="M149.0,1109.1 150.0,1109.1 151.0,1109.1 152.0,1109.6 153.0,1109.6 154.0,1109.6 155.0,1109.6 156.0,1109.6 157.0,1109.6 158.0,1109.6 159.0,1109.6 160.0,1109.2 161.0,1109.2 162.0,1109.2 163.0,1109.2 164.0,1109.2 165.0,1111.2 166.0,1109.5 167.0,1109.2 168.0,1108.8 169.0,1108.2 170.0,1107.5 171.0,1106.9 172.0,1106.2 173.0,1105.5 174.0,1104.7 175.0,1104.3 176.0,1103.9 177.0,1103.4 178.0,1103.1 179.0,1102.8 180.0,1102.5 181.0,1102.2 182.0,1101.9 183.0,1101.7 184.0,1101.9 185.0,1101.6 186.0,1101.4 187.0,1101.1 188.0,1100.9 189.0,1100.7 190.0,1100.4 191.0,1100.2 192.0,1100.0 193.0,1099.7 194.0,1099.5 195.0,1099.3 196.0,1098.5 197.0,1098.3 198.0,1098.1 199.0,1097.9 200.0,1098.4 201.0,1098.2 202.0,1098.0 203.0,1096.8 204.0,1097.4 205.0,1097.2 206.0,1096.8 207.0,1096.5 208.0,1096.1 209.0,1095.3 210.0,1094.9 211.0,1094.4 212.0,1094.0 213.0,1093.5 214.0,1093.1 215.0,1092.6 216.0,1092.2 217.0,1091.5 218.0,1091.1 219.0,1090.7 220.0,1090.2 221.0,1089.8 222.0,1089.4 223.0,1089.0 224.0,1088.8 225.0,1088.4 226.0,1087.9 227.0,1087.4 228.0,1086.9 229.0,1086.4 230.0,1085.8 231.0,1085.3 232.0,1085.4 233.0,1084.8 234.0,1084.1 235.0,1083.4 236.0,1082.7 237.0,1082.0 238.0,1081.2 239.0,1080.5 240.0,1079.8 241.0,1078.3 242.0,1077.6 243.0,1077.0 244.0,1076.3 245.0,1075.7 246.0,1075.1 247.0,1074.5 248.0,1074.3 249.0,1073.7 250.0,1073.1 251.0,1072.5 252.0,1072.0 253.0,1071.4 254.0,1070.9 255.0,1070.4 256.0,1069.5 257.0,1069.0 258.0,1068.7 259.0,1069.0 260.0,1068.7 261.0,1068.4 262.0,1067.6 263.0,1067.3 264.0,1067.1 265.0,1066.8 266.0,1066.6 267.0,1067.9 268.0,1066.2 269.0,1066.0 270.0,1065.9 271.0,1065.8 272.0,1065.6 273.0,1065.6 274.0,1065.6 275.0,1065.5 276.0,1065.5 277.0,1065.6 278.0,1065.9 279.0,1065.9 280.0,1065.9 281.0,1066.0 282.0,1066.0 283.0,1066.1 284.0,1066.2 285.0,1066.2 286.0,1066.3 287.0,1066.6 288.0,1066.7 289.0,1066.8 290.0,1066.9 291.0,1067.0 292.0,1067.2 293.0,1067.4 294.0,1066.9 295.0,1067.2 296.0,1068.0 297.0,1068.4 298.0,1068.8 299.0,1070.1 300.0,1069.4 301.0,1069.9 302.0,1070.3 303.0,1071.2 304.0,1071.6 305.0,1071.7 306.0,1072.0 307.0,1072.4 308.0,1072.7 309.0,1073.0 310.0,1073.3 311.0,1073.7 312.0,1074.0 313.0,1074.3 314.0,1074.2 315.0,1074.5 316.0,1074.9 317.0,1075.2 318.0,1075.6 319.0,1075.9 320.0,1076.3 321.0,1076.6 322.0,1077.0 323.0,1077.1 324.0,1077.5 325.0,1078.0 326.0,1078.4 327.0,1078.9 328.0,1079.3 329.0,1080.2 330.0,1080.6 331.0,1081.0 332.0,1081.8 333.0,1082.2 334.0,1082.5 335.0,1082.7 336.0,1082.9 337.0,1083.2 338.0,1082.8 339.0,1083.0 340.0,1083.2 341.0,1083.4 342.0,1083.5 343.0,1084.3 344.0,1084.4 345.0,1084.4 346.0,1084.4 347.0,1084.3 348.0,1084.0 349.0,1084.7 350.0,1084.7 351.0,1082.7 352.0,1082.3 353.0,1081.9 354.0,1081.4 355.0,1080.9 356.0,1080.3 357.0,1079.4 358.0,1078.5 359.0,1077.4 360.0,1076.3 361.0,1075.2 362.0,1073.9 363.0,1072.8 364.0,1071.6 365.0,1070.3 366.0,1069.5 367.0,1068.5 368.0,1067.8 369.0,1067.5 370.0,1067.8 371.0,1068.7 372.0,1069.9 373.0,1071.3 374.0,1072.8 375.0,1073.9 376.0,1075.5 377.0,1077.5 378.0,1079.6 379.0,1081.8 380.0,1083.9 381.0,1085.8 382.0,1087.2 383.0,1088.6 384.0,1090.5 385.0,1091.8 386.0,1093.1 387.0,1094.3 388.0,1095.2 389.0,1095.8 390.0,1095.9 391.0,1096.0 392.0,1096.1 393.0,1096.2 394.0,1096.3 395.0,1096.3 396.0,1096.3 397.0,1096.4 398.0,1096.5 399.0,1096.6 400.0,1096.7 401.0,1096.8 402.0,1097.0 403.0,1097.3 404.0,1097.6 405.0,1097.9 406.0,1098.3 407.0,1098.7 408.0,1099.0 409.0,1099.4 410.0,1099.9 411.0,1100.3 412.0,1100.7 413.0,1101.7 414.0,1102.2 415.0,1102.6 416.0,1103.1 417.0,1103.1 418.0,1103.6 419.0,1104.1 420.0,1104.7 421.0,1105.2 422.0,1105.7 423.0,1106.4 424.0,1106.9 425.0,1107.5 426.0,1108.0 427.0,1108.7 428.0,1109.3 429.0,1110.4 430.0,1111.1 431.0,1111.8 432.0,1112.4 433.0,1113.1 434.0,1113.8 435.0,1114.4 436.0,1114.7 437.0,1115.3 438.0,1115.8 439.0,1116.3 440.0,1116.5 441.0,1116.9 442.0,1117.3 443.0,1118.0 444.0,1118.4 445.0,1118.7 446.0,1119.0 447.0,1119.3 448.0,1119.6 449.0,1120.4 450.0,1120.7 451.0,1121.0 452.0,1121.2 453.0,1121.5 454.0,1121.2 455.0,1121.5 456.0,1121.8 457.0,1122.0 458.0,1122.3 459.0,1121.2 460.0,1123.0 461.0,1123.3 462.0,1123.8 463.0,1124.2 464.0,1124.6 465.0,1125.2 466.0,1125.6 467.0,1126.0 468.0,1126.4 469.0,1126.8 470.0,1127.3 471.0,1127.7 472.0,1128.2 473.0,1128.1 474.0,1128.6 475.0,1129.0 476.0,1129.5 477.0,1130.0 478.0,1130.4 479.0,1131.2 480.0,1131.7 481.0,1132.1 482.0,1132.6 483.0,1133.0 484.0,1133.5 485.0,1133.6 486.0,1134.0 487.0,1134.3 488.0,1134.7 489.0,1135.1 490.0,1135.6 491.0,1136.1 492.0,1136.5 493.0,1137.0 494.0,1137.4 495.0,1138.4 496.0,1138.8 497.0,1139.3 498.0,1139.9 499.0,1140.3 500.0,1140.2 501.0,1140.6 502.0,1141.0 503.0,1141.3 504.0,1141.7 505.0,1142.1 506.0,1142.4 507.0,1142.7 508.0,1142.9 509.0,1143.2 510.0,1143.4 511.0,1143.5 512.0,1143.7 513.0,1144.0 514.0,1144.2 515.0,1144.4 516.0,1144.6 517.0,1144.9 518.0,1145.1 519.0,1145.3 520.0,1145.5 521.0,1146.2 522.0,1146.4 523.0,1146.6 524.0,1146.7 525.0,1146.9 526.0,1147.0 527.0,1147.2 528.0,1147.3 529.0,1147.5 530.0,1146.9 531.0,1147.1 532.0,1147.2 533.0,1147.3 534.0,1147.4 535.0,1147.5 536.0,1147.6 537.0,1147.7 538.0,1147.8 539.0,1148.1 540.0,1148.2 541.0,1148.3 542.0,1148.4 543.0,1148.5 544.0,1149.2 545.0,1149.3 546.0,1149.4 547.0,1149.5 548.0,1149.6 549.0,1149.7 550.0,1149.8 551.0,1149.9 552.0,1149.5 553.0,1149.6 554.0,1149.7 555.0,1149.9 556.0,1150.0 557.0,1150.6 558.0,1150.7 559.0,1150.9 560.0,1151.1 561.0,1151.2 562.0,1151.4 563.0,1151.6 564.0,1151.8 565.0,1151.9 566.0,1151.7 567.0,1151.9 568.0,1152.0 569.0,1152.2 570.0,1152.3 571.0,1153.0 572.0,1153.2 573.0,1153.3 574.0,1153.4 575.0,1153.4 576.0,1153.6 577.0,1153.6 578.0,1153.7 579.0,1153.8 580.0,1153.6 581.0,1153.7 582.0,1153.7 583.0,1153.5 584.0,1153.5 585.0,1153.5 586.0,1153.6 587.0,1153.6 588.0,1153.7 589.0,1153.3 590.0,1153.4 591.0,1151.5 592.0,1153.5 593.0,1153.5 594.0,1153.6 595.0,1153.6 596.0,1153.7 597.0,1153.8 598.0,1154.2 599.0,1154.3 600.0,1154.4 601.0,1154.5 602.0,1154.6 603.0,1154.8 604.0,1155.1 605.0,1155.3 606.0,1155.4 607.0,1155.6 608.0,1155.8 609.0,1155.9 610.0,1155.7 611.0,1155.9 612.0,1156.1 613.0,1156.2 614.0,1156.4 615.0,1156.5 616.0,1156.6 617.0,1156.8 618.0,1156.9 619.0,1157.1 620.0,1157.2 621.0,1158.0 622.0,1158.1 623.0,1157.8 624.0,1157.9 625.0,1158.0 626.0,1158.1 627.0,1158.7 628.0,1158.8 629.0,1158.9 630.0,1159.0 631.0,1159.1 632.0,1159.3 633.0,1159.4 634.0,1158.8 635.0,1158.9 636.0,1159.0 637.0,1159.1 638.0,1159.1 639.0,1159.2 640.0,1159.3 641.0,1159.3 642.0,1159.4 643.0,1159.4 644.0,1159.5 645.0,1159.6 646.0,1159.6 647.0,1159.7 648.0,1160.4 649.0,1160.5 650.0,1160.6 651.0,1160.6 652.0,1160.7 653.0,1160.7 654.0,1160.3 655.0,1160.4 656.0,1160.4 657.0,1160.5 658.0,1160.5 659.0,1160.2 660.0,1160.2 661.0,1160.2 662.0,1160.3 663.0,1161.1 664.0,1161.1 665.0,1161.1 666.0,1161.1 667.0,1161.1 668.0,1160.7 669.0,1160.7 670.0,1160.7 671.0,1160.7 672.0,1161.0 673.0,1159.1 674.0,1161.0 675.0,1161.0 676.0,1160.4 677.0,1159.4 678.0,1160.4 679.0,1160.4 680.0,1160.4 681.0,1160.4 682.0,1160.4 683.0,1161.0 684.0,1161.0 685.0,1160.6 686.0,1160.6 687.0,1160.6 688.0,1160.6 689.0,1160.6 690.0,1160.9 691.0,1160.9 692.0,1160.9 693.0,1160.9 694.0,1160.8 695.0,1160.8 696.0,1160.8 697.0,1160.8 698.0,1160.9 699.0,1160.9 700.0,1160.9 701.0,1160.9 702.0,1160.9 703.0,1160.9 704.0,1160.9 705.0,1160.9 706.0,1160.9 707.0,1160.9 708.0,1160.9 709.0,1160.9 710.0,1160.6 711.0,1160.6 712.0,1160.6 713.0,1160.6 714.0,1160.6 715.0,1160.6 716.0,1160.6 717.0,1160.6 718.0,1160.9 719.0,1160.9 720.0,1160.9 721.0,1160.9 722.0,1161.2 723.0,1161.2 724.0,1161.2 725.0,1161.2 726.0,1161.2 727.0,1161.2 728.0,1160.5 729.0,1160.5 730.0,1160.5 731.0,1160.5 732.0,1160.5 733.0,1160.5 734.0,1161.0 735.0,1161.0 736.0,1161.0 737.0,1159.5 738.0,1161.0 739.0,1161.0 740.0,1161.0 741.0,1160.8 742.0,1160.8 743.0,1160.8 744.0,1161.0 745.0,1161.0 746.0,1161.0 747.0,1161.0 748.0,1161.0 749.0,1161.0 750.0,1159.3 751.0,1161.0 752.0,1161.0 753.0,1161.3 754.0,1161.3 755.0,1161.3 756.0,1161.3 757.0,1161.0 758.0,1161.0 759.0,1161.0 760.0,1161.0 761.0,1160.8 762.0,1160.8 763.0,1160.9 764.0,1160.9 765.0,1160.9 766.0,1160.9 767.0,1160.9 768.0,1161.0 769.0,1161.0 770.0,1161.4 771.0,1161.4 772.0,1161.4 773.0,1161.5 774.0,1161.5 775.0,1161.5 776.0,1161.6 777.0,1161.6 778.0,1161.6 779.0,1161.5 780.0,1161.6 781.0,1161.6 782.0,1161.6 783.0,1161.7 784.0,1161.4 785.0,1161.4 786.0,1161.4 787.0,1161.5 788.0,1161.5 789.0,1161.7 790.0,1161.7 791.0,1161.9 792.0,1162.0 793.0,1162.0 794.0,1162.0 795.0,1162.1 796.0,1162.1 797.0,1161.9 798.0,1161.9 799.0,1161.9 800.0,1162.0 801.0,1162.0 802.0,1162.0 803.0,1162.1 804.0,1162.1 805.0,1162.2 806.0,1162.3 807.0,1162.4 808.0,1162.5 809.0,1162.5 810.0,1162.6 811.0,1162.6 812.0,1162.7 813.0,1162.7 814.0,1162.8 815.0,1163.3 816.0,1163.4 817.0,1163.4 818.0,1162.8 819.0,1162.9 820.0,1162.9 821.0,1163.6 822.0,1163.7 823.0,1163.7 824.0,1163.8 825.0,1163.8 826.0,1163.9 827.0,1163.9 828.0,1163.9 829.0,1164.0 830.0,1163.3 831.0,1163.4 832.0,1163.4 833.0,1163.4 834.0,1163.4 835.0,1163.2 836.0,1163.2 837.0,1163.3 838.0,1163.3 839.0,1163.3 840.0,1161.6 841.0,1163.4 842.0,1163.4 843.0,1163.4 844.0,1163.9 845.0,1164.0 846.0,1164.0 847.0,1164.1 848.0,1163.9 849.0,1163.9 850.0,1163.9 851.0,1163.8 852.0,1163.8 853.0,1163.8 854.0,1164.2 855.0,1164.2 856.0,1162.7 857.0,1164.2 858.0,1164.3 859.0,1164.3 860.0,1164.2 861.0,1165.6 862.0,1164.2 863.0,1164.3 864.0,1164.0 865.0,1164.0 866.0,1164.0 867.0,1164.1 868.0,1164.2 869.0,1165.7 870.0,1164.2 871.0,1164.8 872.0,1164.8 873.0,1164.8 874.0,1164.8 875.0,1164.8 876.0,1164.8 877.0,1164.8 878.0,1164.9 879.0,1164.9 880.0,1164.1 881.0,1164.1 882.0,1164.1 883.0,1164.1 884.0,1164.2 885.0,1164.2 886.0,1164.2 887.0,1164.2 888.0,1164.2 889.0,1165.0 890.0,1165.0 891.0,1165.0 892.0,1165.1 893.0,1165.1 894.0,1165.1 895.0,1164.6 896.0,1164.6 897.0,1164.6 898.0,1164.7 899.0,1164.7 900.0,1164.7 901.0,1164.1 902.0,1164.1 903.0,1164.1 904.0,1164.2 905.0,1164.7 906.0,1164.7 907.0,1164.7 908.0,1164.7 909.0,1164.7 910.0,1164.8 911.0,1164.8 912.0,1164.8 913.0,1165.0 914.0,1165.0 915.0,1165.0 916.0,1165.0 917.0,1165.0 918.0,1165.0 919.0,1165.1 920.0,1165.1 921.0,1165.1 922.0,1165.1 923.0,1165.1 924.0,1165.1 925.0,1165.1 926.0,1165.1 927.0,1165.4 928.0,1165.4 929.0,1165.5 930.0,1165.5 931.0,1165.5 932.0,1165.5 933.0,1165.5 934.0,1165.6 935.0,1165.6 936.0,1165.4 937.0,1165.5 938.0,1165.5 939.0,1165.5 940.0,1165.5 941.0,1165.6 942.0,1165.6 943.0,1165.6 944.0,1165.4 945.0,1165.4 946.0,1165.4 947.0,1165.5 948.0,1165.5 949.0,1165.2 950.0,1165.3 951.0,1165.3 952.0,1165.3 953.0,1166.4 954.0,1166.5 955.0,1166.5 956.0,1166.5 957.0,1166.6 958.0,1166.6 959.0,1165.9 960.0,1165.9 961.0,1166.0 962.0,1166.0 963.0,1166.1 964.0,1166.1 965.0,1166.2 966.0,1166.3 967.0,1166.4 968.0,1166.4 969.0,1166.5 970.0,1166.6 971.0,1166.6 972.0,1166.7 973.0,1166.8 974.0,1166.8 975.0,1167.3 976.0,1167.4 977.0,1167.5 978.0,1167.5 979.0,1167.6 980.0,1167.6 981.0,1167.4 982.0,1167.5 983.0,1167.5 984.0,1167.6 985.0,1167.6 986.0,1167.7 987.0,1167.8 988.0,1167.3 989.0,1167.4 990.0,1167.4 991.0,1166.2 992.0,1167.5 993.0,1167.6 994.0,1167.6 995.0,1168.5 996.0,1168.6 997.0,1168.2 998.0,1168.2 999.0,1168.2 1000.0,1168.2 1001.0,1168.2 1002.0,1168.3 1003.0,1168.3 1004.0,1168.2 1005.0,1168.2 1006.0,1168.2 1007.0,1168.3 1008.0,1167.9 1009.0,1167.9 1010.0,1167.9 1011.0,1167.9 1012.0,1167.9 1013.0,1167.9 1014.0,1167.9 1015.0,1168.0 1016.0,1168.0 1017.0,1168.6 1018.0,1168.6 1019.0,1168.7 1020.0,1166.9 1021.0,1168.4 1022.0,1168.4 1023.0,1168.4 1024.0,1168.4 1025.0,1168.5 1026.0,1168.5 1027.0,1168.5 1028.0,1168.8 1029.0,1168.8 1030.0,1168.8 1031.0,1168.5 1032.0,1168.5 1033.0,1168.5 1034.0,1168.6 1035.0,1168.6 1036.0,1168.6 1037.0,1168.7 1038.0,1168.7 1039.0,1168.7 1040.0,1166.9 1041.0,1168.7 1042.0,1168.8 1043.0,1168.8 1044.0,1168.8 1045.0,1168.1 1046.0,1168.1 1047.0,1168.2 1048.0,1168.2 1049.0,1168.2 1050.0,1168.2 1051.0,1168.2 1052.0,1168.7 1053.0,1168.7 1054.0,1168.7 1055.0,1168.7 1056.0,1168.8 1057.0,1168.8 1058.0,1169.9 1059.0,1168.7 1060.0,1168.7 1061.0,1168.7 1062.0,1168.7 1063.0,1168.7 1064.0,1168.7 1065.0,1168.7 1066.0,1168.7 1067.0,1168.9 1068.0,1168.9 1069.0,1168.9 1070.0,1168.9 1071.0,1169.2 1072.0,1169.2 1073.0,1169.2 1074.0,1169.2 1075.0,1169.2 1076.0,1169.2 1077.0,1169.2 1078.0,1169.1 1079.0,1169.1 1080.0,1169.1 1081.0,1169.1 1082.0,1168.6 1083.0,1168.6 1084.0,1168.6 1085.0,1168.6 1086.0,1168.6 1087.0,1168.6 1088.0,1168.6 1089.0,1168.6 1090.0,1168.6 1091.0,1169.4 1092.0,1169.4 1093.0,1170.7 1094.0,1169.4 1095.0,1169.4 1096.0,1169.0 1097.0,1169.0 1098.0,1169.0 1099.0,1169.0 1100.0,1169.0 1101.0,1169.0 1102.0,1167.7 1103.0,1169.1 1104.0,1169.1 1105.0,1169.1 1106.0,1169.2 1107.0,1169.2 1108.0,1169.2 1109.0,1169.2 1110.0,1169.2 1111.0,1168.7 1112.0,1168.7 1113.0,1168.7 1114.0,1168.7 1115.0,1168.7 1116.0,1168.7 1117.0,1168.7 1118.0,1168.7 1119.0,1168.7 1120.0,1171.1 1121.0,1169.3 1122.0,1169.3 1123.0,1169.3 1124.0,1169.3 1125.0,1169.3 1126.0,1169.3 1127.0,1169.0 1128.0,1170.1 1129.0,1169.0 1130.0,1169.0 1131.0,1169.0 1132.0,1169.0 1133.0,1169.0 1134.0,1169.0 1135.0,1169.0 1136.0,1169.0 1137.0,1168.5 1138.0,1168.5 1139.0,1168.5 1140.0,1168.5 1141.0,1168.5 1142.0,1168.5 1143.0,1168.5 1144.0,1168.5 1145.0,1169.0 1146.0,1169.0 1147.0,1169.0 1148.0,1169.5 1149.0,1169.5 1150.0,1169.5 1151.0,1169.5 1152.0,1169.5 1153.0,1169.5 1154.0,1169.5 1155.0,1169.5 1156.0,1169.6 1157.0,1169.6 1158.0,1169.6 1159.0,1169.6 1160.0,1169.6 1161.0,1169.6 1162.0,1169.6 1163.0,1169.6 1164.0,1169.6 1165.0,1169.3 1166.0,1168.0 1167.0,1169.0 1168.0,1169.0 1169.0,1169.0 1170.0,1169.0 1171.0,1169.0 1172.0,1169.0 1173.0,1169.0 1174.0,1169.0 1175.0,1169.0 1176.0,1169.0 1177.0,1167.3 1178.0,1169.0 1179.0,1169.0 1180.0,1169.0 1181.0,1169.0 1182.0,1169.3 1183.0,1169.3 1184.0,1169.3 1185.0,1169.3 1186.0,1169.3 1187.0,1169.3 1188.0,1169.3 1189.0,1168.9 1190.0,1168.9 1191.0,1168.9 1192.0,1168.9 1193.0,1168.9 1194.0,1168.9 1195.0,1169.2 1196.0,1169.2 1197.0,1169.1 1198.0,1169.1 1199.0,1169.1 1200.0,1169.1 1201.0,1169.1 1202.0,1169.1 1203.0,1169.1 1204.0,1169.1 1205.0,1169.8 1206.0,1169.8 1207.0,1169.8 1208.0,1169.8 1209.0,1171.0 1210.0,1169.8 1211.0,1169.8 1212.0,1169.8 1213.0,1168.8 1214.0,1168.8 1215.0,1168.8 1216.0,1168.8 1217.0,1168.8 1218.0,1168.8 1219.0,1168.8 1220.0,1168.8 1221.0,1168.8 1222.0,1168.8 1223.0,1168.8 1224.0,1168.8 1225.0,1168.9 1226.0,1168.9 1227.0,1168.9 1228.0,1168.9 1229.0,1168.9 1230.0,1168.9 1231.0,1169.1 1232.0,1169.2 1233.0,1169.2 1234.0,1169.2 1235.0,1169.2 1236.0,1169.2 1237.0,1169.2 1238.0,1169.2 1239.0,1169.2 1240.0,1169.2 1241.0,1169.2 1242.0,1169.2 1243.0,1169.5 1244.0,1169.5 1245.0,1169.6 1246.0,1169.6 1247.0,1169.6 1248.0,1169.4 1249.0,1169.4 1250.0,1169.4 1251.0,1169.4 1252.0,1169.4 1253.0,1169.3 1254.0,1169.3 1255.0,1169.3 1256.0,1169.3 1257.0,1169.3 1258.0,1169.3 1259.0,1169.4 1260.0,1169.4 1261.0,1169.5 1262.0,1169.5 1263.0,1169.5 1264.0,1169.5 1265.0,1169.6 1266.0,1169.6 1267.0,1169.6 1268.0,1169.6 1269.0,1169.6 1270.0,1169.6 1271.0,1169.6 1272.0,1169.6 1273.0,1171.4 1274.0,1169.6 1275.0,1169.6 1276.0,1169.6 1277.0,1169.6 1278.0,1169.6 1279.0,1169.1 1280.0,1169.1 1281.0,1169.1 1282.0,1169.1 1283.0,1169.1 1284.0,1169.1 1285.0,1170.0 1286.0,1170.0 1287.0,1170.0 1288.0,1170.0 1289.0,1170.0 1290.0,1170.0 1291.0,1170.0 1292.0,1170.0 1293.0,1170.0 1294.0,1169.5 1295.0,1169.5 1296.0,1169.9 1297.0,1169.9 1298.0,1169.9 1299.0,1169.9 1300.0,1169.9 1301.0,1169.9 1302.0,1169.9 1303.0,1169.9 1304.0,1169.9 1305.0,1169.4 1306.0,1169.4 1307.0,1169.4 1308.0,1169.4 1309.0,1169.4 1310.0,1169.4 1311.0,1169.4 1312.0,1169.4 1313.0,1169.6 1314.0,1169.6 1315.0,1169.6 1316.0,1169.6 1317.0,1169.6 1318.0,1169.6 1319.0,1169.6 1320.0,1169.6 1321.0,1169.8 1322.0,1169.8 1323.0,1169.8 1324.0,1169.8 1325.0,1169.8 1326.0,1169.8 1327.0,1169.7 1328.0,1169.7 1329.0,1169.5 1330.0,1169.5 1331.0,1169.5 1332.0,1169.5 1333.0,1169.5 1334.0,1169.5 1335.0,1169.5 1336.0,1168.7 1337.0,1168.7 1338.0,1168.9 1339.0,1168.9 1340.0,1168.9 1341.0,1168.9 1342.0,1168.9 1343.0,1168.9 1344.0,1167.4 1345.0,1169.4 1346.0,1169.4 1347.0,1169.4 1348.0,1169.4 1349.0,1169.4 1350.0,1167.9 1351.0,1168.8 1352.0,1168.8 1353.0,1168.8 1354.0,1168.8 1355.0,1168.8 1356.0,1169.2 1357.0,1169.2 1358.0,1169.2 1359.0,1168.5 1360.0,1168.4 1361.0,1168.4 1362.0,1168.9 1363.0,1168.9 1364.0,1167.6 1365.0,1168.9 1366.0,1168.9 1367.0,1168.9 1368.0,1168.8 1369.0,1168.8 1370.0,1169.0 1371.0,1168.9 1372.0,1168.9 1373.0,1168.9 1374.0,1168.9 1375.0,1168.1 1376.0,1168.1 1377.0,1168.1 1378.0,1168.8 1379.0,1168.8 1380.0,1168.8 1381.0,1168.7 1382.0,1168.7 1383.0,1168.7 1384.0,1168.7 1385.0,1168.9 1386.0,1168.9 1387.0,1168.8 1388.0,1168.8 1389.0,1168.8 1390.0,1168.8 1391.0,1168.8 1392.0,1168.8 1393.0,1168.8 1394.0,1168.5 1395.0,1168.5 1396.0,1168.5 1397.0,1168.5 1398.0,1168.5 1399.0,1168.5 1400.0,1168.5 1401.0,1168.5 1402.0,1168.7 1403.0,1168.7 1404.0,1168.6 1405.0,1168.6 1406.0,1168.6 1407.0,1168.6 1408.0,1168.6 1409.0,1168.6 1410.0,1168.6 1411.0,1168.2 1412.0,1168.2 1413.0,1168.2 1414.0,1168.2 1415.0,1168.1 1416.0,1168.1 1417.0,1168.6 1418.0,1168.6 1419.0,1168.6 1420.0,1168.3 1421.0,1168.3 1422.0,1168.0 1423.0,1168.0 1424.0,1168.0 1425.0,1168.9 1426.0,1167.9 1427.0,1167.9 1428.0,1167.9 1429.0,1167.9 1430.0,1167.9 1431.0,1168.3 1432.0,1168.3 1433.0,1168.3 1434.0,1168.3 1435.0,1168.2 1436.0,1168.2 1437.0,1168.2 1438.0,1168.2 1439.0,1168.2 1440.0,1167.6 1441.0,1167.6 1442.0,1167.5 1443.0,1167.5 1444.0,1167.5 1445.0,1167.8 1446.0,1167.7 1447.0,1167.7 1448.0,1167.7 1449.0,1167.7 1450.0,1167.5 1451.0,1167.5 1452.0,1167.5 1453.0,1167.7 1454.0,1167.7 1455.0,1167.6 1456.0,1167.6 1457.0,1167.5 1458.0,1167.5 1459.0,1167.5 1460.0,1167.6 1461.0,1167.6 1462.0,1167.6 1463.0,1167.5 1464.0,1167.5 1465.0,1167.5 1466.0,1167.5 1467.0,1167.5 1468.0,1168.8 1469.0,1167.5 1470.0,1167.4 1471.0,1167.4 1472.0,1167.7 1473.0,1167.7 1474.0,1167.7 1475.0,1167.7 1476.0,1167.7 1477.0,1167.7 1478.0,1167.7 1479.0,1167.6 1480.0,1167.6 1481.0,1167.4 1482.0,1167.4 1483.0,1167.4 1484.0,1167.4 1485.0,1167.4 1486.0,1167.4 1487.0,1165.8 1488.0,1167.1 1489.0,1167.1 1490.0,1167.1 1491.0,1167.1 1492.0,1167.1 1493.0,1167.2 1494.0,1167.2 1495.0,1167.2 1496.0,1167.2 1497.0,1167.2 1498.0,1167.2 1499.0,1166.8 1500.0,1166.8 1501.0,1166.8 1502.0,1166.8 1503.0,1166.8 1504.0,1166.8 1505.0,1167.5 1506.0,1167.5 1507.0,1167.5 1508.0,1167.5 1509.0,1167.5 1510.0,1167.5 1511.0,1167.5 1512.0,1167.5 1513.0,1167.0 1514.0,1167.0 1515.0,1167.0 1516.0,1167.0 1517.0,1167.0 1518.0,1167.0 1519.0,1166.8 1520.0,1166.8 1521.0,1166.8 1522.0,1166.8 1523.0,1167.4 1524.0,1167.4 1525.0,1167.4 1526.0,1167.4 1527.0,1167.4 1528.0,1167.4 1529.0,1167.5 1530.0,1167.4 1531.0,1167.4 1532.0,1167.0 1533.0,1165.8 1534.0,1167.1 1535.0,1167.1 1536.0,1167.1 1537.0,1167.1 1538.0,1167.1 1539.0,1167.1 1540.0,1167.1 1541.0,1167.4 1542.0,1167.4 1543.0,1167.4 1544.0,1167.4 1545.0,1165.6 1546.0,1167.5 1547.0,1167.5 1548.0,1167.5 1549.0,1167.5 1550.0,1167.4 1551.0,1167.4 1552.0,1167.4 1553.0,1167.5 1554.0,1167.5 1555.0,1167.5 1556.0,1167.5 1557.0,1168.1 1558.0,1168.1 1559.0,1168.1 1560.0,1168.1 1561.0,1167.5 1562.0,1167.6 1563.0,1167.6 1564.0,1167.8 1565.0,1167.8 1566.0,1167.9 1567.0,1167.9 1568.0,1168.0 1569.0,1168.0 1570.0,1168.0 1571.0,1168.1 1572.0,1167.5 1573.0,1167.5 1574.0,1167.6 1575.0,1167.6 1576.0,1167.7 1577.0,1168.2 1578.0,1168.3 1579.0,1168.3 1580.0,1168.4 1581.0,1170.3 1582.0,1168.5 1583.0,1168.6 1584.0,1168.6 1585.0,1168.7 1586.0,1168.9 1587.0,1168.9 1588.0,1169.0 1589.0,1169.1 1590.0,1169.1 1591.0,1169.2 1592.0,1169.3 1593.0,1169.4 1594.0,1169.4 1595.0,1169.5 1596.0,1169.5 1597.0,1169.6 1598.0,1169.4 1599.0,1169.4 1600.0,1169.5 1601.0,1169.5 1602.0,1169.6 1603.0,1169.6 1604.0,1169.7 1605.0,1169.7 1606.0,1169.8 1607.0,1168.1 1608.0,1169.9 1609.0,1169.9 1610.0,1170.0 1611.0,1170.0 1612.0,1170.1 1613.0,1170.1 1614.0,1171.0 1615.0,1171.0 1616.0,1171.1 1617.0,1171.1 1618.0,1171.2 1619.0,1171.2 1620.0,1171.3 1621.0,1171.2 1622.0,1171.2 1623.0,1171.3 1624.0,1171.3 1625.0,1173.1 1626.0,1171.4 1627.0,1171.4 1628.0,1171.2 1629.0,1171.3 1630.0,1171.3 1631.0,1171.4 1632.0,1171.4 1633.0,1171.8 1634.0,1171.8 1635.0,1171.9 1636.0,1171.9 1637.0,1172.0 1638.0,1171.6 1639.0,1171.6 1640.0,1171.7 1641.0,1171.8 1642.0,1171.4 1643.0,1171.4 1644.0,1171.5 1645.0,1171.5 1646.0,1169.7 1647.0,1171.6 1648.0,1171.6 1649.0,1171.6 1650.0,1171.7 1651.0,1172.0 1652.0,1172.1 1653.0,1172.1 1654.0,1172.1 1655.0,1172.1 1656.0,1172.2 1657.0,1172.2 1658.0,1172.2 1659.0,1172.2 1660.0,1171.9 1661.0,1171.9 1662.0,1172.1 1663.0,1172.1 1664.0,1172.2 1665.0,1172.2 1666.0,1172.2 1667.0,1172.2 1668.0,1172.3 1669.0,1172.3 1670.0,1172.4 1671.0,1172.4 1672.0,1172.4 1673.0,1172.7 1674.0,1172.7 1675.0,1172.7 1676.0,1172.7 1677.0,1172.8 1678.0,1172.8 1679.0,1172.8 1680.0,1172.8 1681.0,1172.8 1682.0,1172.7 1683.0,1172.7 1684.0,1172.7 1685.0,1172.8 1686.0,1172.3 1687.0,1170.4 1688.0,1172.4 1689.0,1172.4 1690.0,1172.4 1691.0,1172.4 1692.0,1172.4 1693.0,1172.4 1694.0,1173.0 1695.0,1173.0 1696.0,1173.0 1697.0,1173.0 1698.0,1173.1 1699.0,1173.1 1700.0,1173.1 1701.0,1172.1 1702.0,1172.6 1703.0,1172.6 1704.0,1172.6 1705.0,1172.6 1706.0,1172.6 1707.0,1172.6 1708.0,1172.9 1709.0,1173.0 1710.0,1173.0 1711.0,1173.0 1712.0,1173.0 1713.0,1173.0 1714.0,1173.0 1715.0,1173.0 1716.0,1173.0 1717.0,1173.1 1718.0,1173.1 1719.0,1173.1 1720.0,1173.1 1721.0,1173.2 1722.0,1173.2 1723.0,1173.2 1724.0,1173.2 1725.0,1173.2 1726.0,1173.2 1727.0,1173.3 1728.0,1173.3 1729.0,1173.2 1730.0,1173.2 1731.0,1173.3 1732.0,1173.3 1733.0,1173.6 1734.0,1173.6 1735.0,1173.6 1736.0,1173.6 1737.0,1173.6 1738.0,1176.3 1739.0,1174.5 1740.0,1174.5 1741.0,1174.5 1742.0,1173.7 1743.0,1173.7 1744.0,1173.7 1745.0,1173.7 1746.0,1173.7 1747.0,1173.7 1748.0,1173.7 1749.0,1173.7 1750.0,1173.7 1751.0,1173.7" stroke="#000"/>
</g>
<rect x="459.8" y="338.4" width="26.5" height="26.5" fill="none" stroke="#3a3a3a" stroke-width="3.2"/><rect x="578.0" y="315.4" width="26.5" height="26.5" fill="none" stroke="#3a3a3a" stroke-width="3.2"/><rect x="1038.3" y="341.1" width="26.5" height="26.5" fill="none" stroke="#3a3a3a" stroke-width="3.2"/><rect x="1159.0" y="333.1" width="26.5" height="26.5" fill="none" stroke="#3a3a3a" stroke-width="3.2"/><rect x="462.1" y="623.5" width="26.5" height="26.5" fill="none" stroke="#3a3a3a" stroke-width="3.2"/><rect x="578.0" y="601.0" width="26.5" height="26.5" fill="none" stroke="#3a3a3a" stroke-width="3.2"/><rect x="1038.3" y="626.8" width="26.5" height="26.5" fill="none" stroke="#3a3a3a" stroke-width="3.2"/><rect x="1159.0" y="621.1" width="26.5" height="26.5" fill="none" stroke="#3a3a3a" stroke-width="3.2"/><rect x="464.8" y="917.0" width="26.5" height="26.5" fill="none" stroke="#3a3a3a" stroke-width="3.2"/><rect x="580.6" y="891.2" width="26.5" height="26.5" fill="none" stroke="#3a3a3a" stroke-width="3.2"/><rect x="1038.3" y="924.2" width="26.5" height="26.5" fill="none" stroke="#3a3a3a" stroke-width="3.2"/><rect x="1156.3" y="919.2" width="26.5" height="26.5" fill="none" stroke="#3a3a3a" stroke-width="3.2"/>
<circle cx="784.8" cy="75.2" r="16" fill="#000"/><circle cx="1216.9" cy="324.5" r="16" fill="#000"/><circle cx="1590.1" cy="294" r="16" fill="#000"/><circle cx="787" cy="399.2" r="16" fill="#000"/><circle cx="1219.4" cy="635.7" r="16" fill="#000"/><circle cx="1592.5" cy="604.9" r="16" fill="#000"/><circle cx="784.8" cy="695.3" r="16" fill="#000"/><circle cx="1219.4" cy="934.1" r="16" fill="#000"/><circle cx="1590.1" cy="903.5" r="16" fill="#000"/>
<polygon points="366.3,1017.4 370.4,1029.0 382.7,1029.3 372.9,1036.7 376.4,1048.5 366.3,1041.5 356.2,1048.5 359.7,1036.7 349.9,1029.3 362.2,1029.0" fill="#000"/>
<text x="258.5" y="1284" text-anchor="middle" class="tl">20</text><text x="685.0" y="1284" text-anchor="middle" class="tl">40</text><text x="1110.0" y="1284" text-anchor="middle" class="tl">60</text><text x="1537.7" y="1284" text-anchor="middle" class="tl">80</text>
<text y="1365.3" class="ax" x="784.25">2</text><text transform="translate(822.9,1364.3) scale(1.1,1)" x="0" y="0" class="th">θ</text><text y="1365.3" class="ax" x="880.60 906.26 944.92 986.46 1025.49 1050.12 1089.62 1134.38">(degree)</text>
<text transform="translate(73.2,841) rotate(-90)" y="0" class="ay" x="-6.83 15.49 53.98 74.26 113.39 155.34 190.65 208.78 229.62 266.62 283.01 305.76 343.94 364.59 406.24 427.67">Intensity (a.u.)</text>
<text y="355.5" class="pl" x="1650.49">(</text><text y="355.5" class="pl" x="1669.09">a</text><text y="355.5" class="pl" x="1705.83">)</text><text y="644.7" class="pl" x="1650.49">(</text><text y="644.7" class="pl" x="1669.71">b</text><text y="644.7" class="pl" x="1705.83">)</text><text y="944.7" class="pl" x="1650.49">(</text><text y="944.7" class="pl" x="1671.63">c</text><text y="944.7" class="pl" x="1705.83">)</text><text y="1137.8" class="pl" x="1650.49">(</text><text y="1137.8" class="pl" x="1671.09">d</text><text y="1137.8" class="pl" x="1705.83">)</text>
</svg>
</body></html>
